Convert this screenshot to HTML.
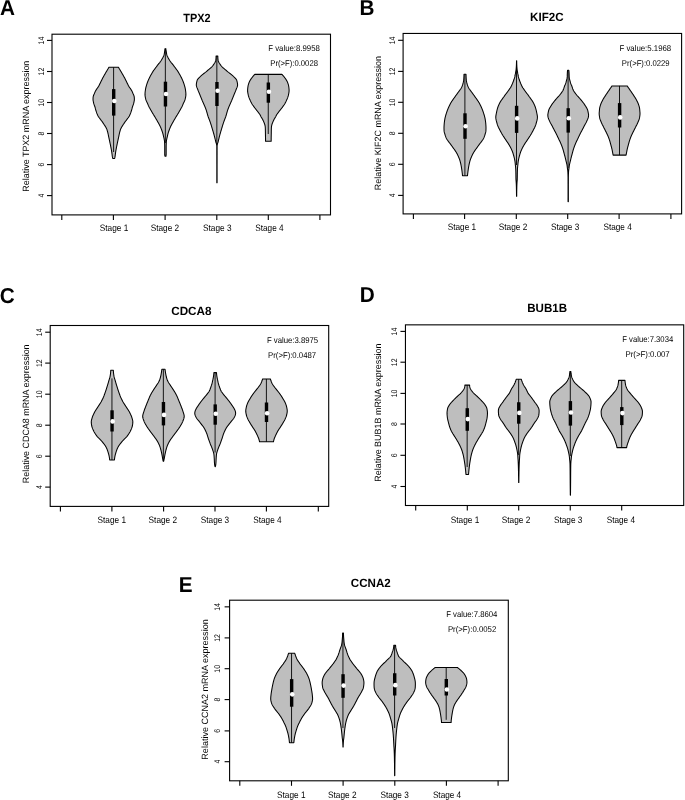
<!DOCTYPE html>
<html>
<head>
<meta charset="utf-8">
<title>Violin plots</title>
<style>
html, body { margin: 0; padding: 0; background: #fff; }
body { width: 685px; height: 800px; overflow: hidden; font-family: "Liberation Sans", sans-serif; }
svg { display: block; font-family: "Liberation Sans", sans-serif; will-change: transform; opacity: 0.9999; filter: blur(0.35px); text-rendering: geometricPrecision; }
</style>
</head>
<body>
<svg width="685" height="800" viewBox="0 0 685 800">
<rect x="0" y="0" width="685" height="800" fill="#fff"/>
<g id="panel-A">
<path d="M118.52 67.3 L118.85 67.9 L119.18 68.5 L119.53 69.1 L119.89 69.7 L120.25 70.3 L120.61 70.9 L120.96 71.5 L121.31 72.1 L121.66 72.7 L122.01 73.3 L122.36 73.9 L122.7 74.5 L123.04 75.1 L123.39 75.7 L123.72 76.3 L124.06 76.9 L124.4 77.5 L124.72 78.1 L125.02 78.7 L125.32 79.3 L125.62 79.9 L125.92 80.5 L126.21 81.1 L126.51 81.7 L126.8 82.3 L127.09 82.9 L127.38 83.5 L127.68 84.1 L127.97 84.7 L128.26 85.3 L128.58 85.9 L128.95 86.5 L129.35 87.1 L129.76 87.7 L130.17 88.3 L130.59 88.9 L130.98 89.5 L131.38 90.1 L131.75 90.7 L132.06 91.3 L132.32 91.9 L132.58 92.5 L132.83 93.1 L133.09 93.7 L133.38 94.3 L133.63 94.9 L133.86 95.5 L134.05 96.1 L134.19 96.7 L134.28 97.3 L134.33 97.9 L134.36 98.5 L134.37 99.1 L134.37 99.7 L134.32 100.3 L134.2 100.9 L134.09 101.5 L133.98 102.1 L133.84 102.7 L133.69 103.3 L133.52 103.9 L133.33 104.5 L133.12 105.1 L132.91 105.7 L132.69 106.3 L132.46 106.9 L132.27 107.5 L132.14 108.1 L132 108.7 L131.84 109.3 L131.67 109.9 L131.49 110.5 L131.3 111.1 L131.1 111.7 L130.9 112.3 L130.69 112.9 L130.46 113.5 L130.21 114.1 L129.94 114.7 L129.66 115.3 L129.37 115.9 L129.03 116.5 L128.61 117.1 L128.2 117.7 L127.77 118.3 L127.33 118.9 L126.88 119.5 L126.42 120.1 L125.96 120.7 L125.5 121.3 L125.06 121.9 L124.64 122.5 L124.24 123.1 L123.85 123.7 L123.47 124.3 L123.06 124.9 L122.65 125.5 L122.26 126.1 L121.88 126.7 L121.53 127.3 L121.21 127.9 L120.91 128.5 L120.63 129.1 L120.42 129.7 L120.24 130.3 L120.06 130.9 L119.89 131.5 L119.73 132.1 L119.57 132.7 L119.43 133.3 L119.3 133.9 L119.17 134.5 L119.05 135.1 L118.94 135.7 L118.82 136.3 L118.69 136.9 L118.56 137.5 L118.43 138.1 L118.3 138.7 L118.17 139.3 L118.04 139.9 L117.91 140.5 L117.78 141.1 L117.65 141.7 L117.53 142.3 L117.4 142.9 L117.28 143.5 L117.15 144.1 L117.03 144.7 L116.9 145.3 L116.78 145.9 L116.66 146.5 L116.54 147.1 L116.42 147.7 L116.3 148.3 L116.19 148.9 L116.08 149.5 L115.97 150.1 L115.87 150.7 L115.77 151.3 L115.68 151.9 L115.59 152.5 L115.5 153.1 L115.43 153.7 L115.35 154.3 L115.28 154.9 L115.2 155.5 L115.11 156.1 L115.02 156.7 L114.91 157.3 L114.78 157.9 L114.65 158.4 L112.75 158.4 L112.62 157.9 L112.49 157.3 L112.38 156.7 L112.29 156.1 L112.2 155.5 L112.12 154.9 L112.05 154.3 L111.97 153.7 L111.9 153.1 L111.81 152.5 L111.72 151.9 L111.63 151.3 L111.53 150.7 L111.43 150.1 L111.32 149.5 L111.21 148.9 L111.1 148.3 L110.98 147.7 L110.86 147.1 L110.74 146.5 L110.62 145.9 L110.5 145.3 L110.37 144.7 L110.25 144.1 L110.12 143.5 L110 142.9 L109.87 142.3 L109.75 141.7 L109.62 141.1 L109.49 140.5 L109.36 139.9 L109.23 139.3 L109.1 138.7 L108.97 138.1 L108.84 137.5 L108.71 136.9 L108.58 136.3 L108.46 135.7 L108.35 135.1 L108.23 134.5 L108.1 133.9 L107.97 133.3 L107.83 132.7 L107.67 132.1 L107.51 131.5 L107.34 130.9 L107.16 130.3 L106.98 129.7 L106.77 129.1 L106.49 128.5 L106.19 127.9 L105.87 127.3 L105.52 126.7 L105.14 126.1 L104.75 125.5 L104.34 124.9 L103.93 124.3 L103.55 123.7 L103.16 123.1 L102.76 122.5 L102.34 121.9 L101.9 121.3 L101.44 120.7 L100.98 120.1 L100.52 119.5 L100.07 118.9 L99.63 118.3 L99.2 117.7 L98.79 117.1 L98.37 116.5 L98.03 115.9 L97.74 115.3 L97.46 114.7 L97.19 114.1 L96.94 113.5 L96.71 112.9 L96.5 112.3 L96.3 111.7 L96.1 111.1 L95.91 110.5 L95.73 109.9 L95.56 109.3 L95.4 108.7 L95.26 108.1 L95.13 107.5 L94.94 106.9 L94.71 106.3 L94.49 105.7 L94.28 105.1 L94.07 104.5 L93.88 103.9 L93.71 103.3 L93.56 102.7 L93.42 102.1 L93.31 101.5 L93.2 100.9 L93.08 100.3 L93.03 99.7 L93.03 99.1 L93.04 98.5 L93.07 97.9 L93.12 97.3 L93.21 96.7 L93.35 96.1 L93.54 95.5 L93.77 94.9 L94.02 94.3 L94.31 93.7 L94.57 93.1 L94.82 92.5 L95.08 91.9 L95.34 91.3 L95.65 90.7 L96.02 90.1 L96.42 89.5 L96.81 88.9 L97.23 88.3 L97.64 87.7 L98.05 87.1 L98.45 86.5 L98.82 85.9 L99.14 85.3 L99.43 84.7 L99.72 84.1 L100.02 83.5 L100.31 82.9 L100.6 82.3 L100.89 81.7 L101.19 81.1 L101.48 80.5 L101.78 79.9 L102.08 79.3 L102.38 78.7 L102.68 78.1 L103 77.5 L103.34 76.9 L103.68 76.3 L104.01 75.7 L104.36 75.1 L104.7 74.5 L105.04 73.9 L105.39 73.3 L105.74 72.7 L106.09 72.1 L106.44 71.5 L106.79 70.9 L107.15 70.3 L107.51 69.7 L107.87 69.1 L108.22 68.5 L108.55 67.9 L108.88 67.3Z" fill="#bebebe" stroke="#000" stroke-width="1.05" stroke-linejoin="round"/>
<line x1="113.6" y1="67.3" x2="113.6" y2="152" stroke="#000" stroke-width="0.9"/>
<rect x="112" y="89.1" width="3.4" height="26.5" fill="#000"/>
<circle cx="114.3" cy="101" r="2.3" fill="#fff"/>
<path d="M165.94 48.7 L165.96 49.3 L166 49.9 L166.07 50.5 L166.17 51.1 L166.28 51.7 L166.37 52.3 L166.46 52.9 L166.56 53.5 L166.67 54.1 L166.8 54.7 L166.98 55.3 L167.19 55.9 L167.48 56.5 L167.79 57.1 L168.11 57.7 L168.45 58.3 L168.8 58.9 L169.15 59.5 L169.49 60.1 L169.85 60.7 L170.24 61.3 L170.67 61.9 L171.11 62.5 L171.62 63.1 L172.15 63.7 L172.67 64.3 L173.15 64.9 L173.59 65.5 L174.01 66.1 L174.44 66.7 L174.88 67.3 L175.34 67.9 L175.79 68.5 L176.25 69.1 L176.69 69.7 L177.13 70.3 L177.55 70.9 L177.95 71.5 L178.32 72.1 L178.67 72.7 L179.01 73.3 L179.35 73.9 L179.69 74.5 L180.04 75.1 L180.38 75.7 L180.7 76.3 L181.02 76.9 L181.32 77.5 L181.61 78.1 L181.89 78.7 L182.17 79.3 L182.44 79.9 L182.7 80.5 L182.95 81.1 L183.19 81.7 L183.42 82.3 L183.64 82.9 L183.84 83.5 L184.03 84.1 L184.22 84.7 L184.4 85.3 L184.58 85.9 L184.75 86.5 L184.91 87.1 L185.07 87.7 L185.2 88.3 L185.32 88.9 L185.43 89.5 L185.51 90.1 L185.59 90.7 L185.67 91.3 L185.74 91.9 L185.8 92.5 L185.85 93.1 L185.88 93.7 L185.9 94.3 L185.89 94.9 L185.85 95.5 L185.78 96.1 L185.68 96.7 L185.57 97.3 L185.44 97.9 L185.31 98.5 L185.18 99.1 L185.02 99.7 L184.82 100.3 L184.58 100.9 L184.32 101.5 L184.03 102.1 L183.73 102.7 L183.42 103.3 L183.16 103.9 L182.92 104.5 L182.68 105.1 L182.42 105.7 L182.14 106.3 L181.84 106.9 L181.53 107.5 L181.2 108.1 L180.86 108.7 L180.52 109.3 L180.18 109.9 L179.83 110.5 L179.5 111.1 L179.16 111.7 L178.81 112.3 L178.46 112.9 L178.11 113.5 L177.75 114.1 L177.39 114.7 L177.01 115.3 L176.64 115.9 L176.27 116.5 L175.91 117.1 L175.55 117.7 L175.19 118.3 L174.83 118.9 L174.48 119.5 L174.13 120.1 L173.78 120.7 L173.44 121.3 L173.11 121.9 L172.77 122.5 L172.43 123.1 L172.1 123.7 L171.77 124.3 L171.44 124.9 L171.12 125.5 L170.83 126.1 L170.55 126.7 L170.29 127.3 L170.03 127.9 L169.79 128.5 L169.56 129.1 L169.33 129.7 L169.11 130.3 L168.89 130.9 L168.68 131.5 L168.47 132.1 L168.28 132.7 L168.1 133.3 L167.93 133.9 L167.78 134.5 L167.65 135.1 L167.52 135.7 L167.39 136.3 L167.24 136.9 L167.09 137.5 L166.95 138.1 L166.81 138.7 L166.69 139.3 L166.58 139.9 L166.49 140.5 L166.41 141.1 L166.34 141.7 L166.3 142.3 L166.28 142.9 L166.26 143.5 L166.23 144.1 L166.21 144.7 L166.19 145.3 L166.18 145.9 L166.17 146.5 L166.17 147.1 L166.17 147.7 L166.17 148.3 L166.17 148.9 L166.17 149.5 L166.17 150.1 L166.17 150.7 L166.17 151.3 L166.17 151.9 L166.17 152.5 L166.17 153.1 L166.17 153.7 L166.17 154.3 L166.15 154.9 L166.07 155.5 L165.97 156.1 L165.94 156.3 L164.95 156.3 L164.93 156.1 L164.83 155.5 L164.75 154.9 L164.73 154.3 L164.73 153.7 L164.73 153.1 L164.73 152.5 L164.73 151.9 L164.73 151.3 L164.73 150.7 L164.73 150.1 L164.73 149.5 L164.73 148.9 L164.73 148.3 L164.73 147.7 L164.73 147.1 L164.73 146.5 L164.72 145.9 L164.71 145.3 L164.69 144.7 L164.67 144.1 L164.64 143.5 L164.62 142.9 L164.6 142.3 L164.56 141.7 L164.49 141.1 L164.41 140.5 L164.32 139.9 L164.21 139.3 L164.09 138.7 L163.95 138.1 L163.81 137.5 L163.66 136.9 L163.51 136.3 L163.38 135.7 L163.25 135.1 L163.12 134.5 L162.97 133.9 L162.8 133.3 L162.62 132.7 L162.43 132.1 L162.22 131.5 L162.01 130.9 L161.79 130.3 L161.57 129.7 L161.34 129.1 L161.11 128.5 L160.87 127.9 L160.61 127.3 L160.35 126.7 L160.07 126.1 L159.78 125.5 L159.46 124.9 L159.13 124.3 L158.8 123.7 L158.47 123.1 L158.13 122.5 L157.79 121.9 L157.46 121.3 L157.12 120.7 L156.77 120.1 L156.42 119.5 L156.07 118.9 L155.71 118.3 L155.35 117.7 L154.99 117.1 L154.63 116.5 L154.26 115.9 L153.89 115.3 L153.51 114.7 L153.15 114.1 L152.79 113.5 L152.44 112.9 L152.09 112.3 L151.74 111.7 L151.4 111.1 L151.07 110.5 L150.72 109.9 L150.38 109.3 L150.04 108.7 L149.7 108.1 L149.37 107.5 L149.06 106.9 L148.76 106.3 L148.48 105.7 L148.22 105.1 L147.98 104.5 L147.74 103.9 L147.48 103.3 L147.17 102.7 L146.87 102.1 L146.58 101.5 L146.32 100.9 L146.08 100.3 L145.88 99.7 L145.72 99.1 L145.59 98.5 L145.46 97.9 L145.33 97.3 L145.22 96.7 L145.12 96.1 L145.05 95.5 L145.01 94.9 L145 94.3 L145.02 93.7 L145.05 93.1 L145.1 92.5 L145.16 91.9 L145.23 91.3 L145.31 90.7 L145.39 90.1 L145.47 89.5 L145.58 88.9 L145.7 88.3 L145.83 87.7 L145.99 87.1 L146.15 86.5 L146.32 85.9 L146.5 85.3 L146.68 84.7 L146.87 84.1 L147.06 83.5 L147.26 82.9 L147.48 82.3 L147.71 81.7 L147.95 81.1 L148.2 80.5 L148.46 79.9 L148.73 79.3 L149.01 78.7 L149.29 78.1 L149.58 77.5 L149.88 76.9 L150.2 76.3 L150.52 75.7 L150.86 75.1 L151.21 74.5 L151.55 73.9 L151.89 73.3 L152.23 72.7 L152.58 72.1 L152.95 71.5 L153.35 70.9 L153.77 70.3 L154.21 69.7 L154.65 69.1 L155.11 68.5 L155.56 67.9 L156.02 67.3 L156.46 66.7 L156.89 66.1 L157.31 65.5 L157.75 64.9 L158.23 64.3 L158.75 63.7 L159.28 63.1 L159.79 62.5 L160.23 61.9 L160.66 61.3 L161.05 60.7 L161.41 60.1 L161.75 59.5 L162.1 58.9 L162.45 58.3 L162.79 57.7 L163.11 57.1 L163.42 56.5 L163.71 55.9 L163.92 55.3 L164.1 54.7 L164.23 54.1 L164.34 53.5 L164.44 52.9 L164.53 52.3 L164.62 51.7 L164.73 51.1 L164.83 50.5 L164.9 49.9 L164.94 49.3 L164.95 48.7Z" fill="#bebebe" stroke="#000" stroke-width="1.05" stroke-linejoin="round"/>
<line x1="165.35" y1="48.7" x2="165.35" y2="143" stroke="#000" stroke-width="0.9"/>
<rect x="163.75" y="81.7" width="3.4" height="24.8" fill="#000"/>
<circle cx="166.05" cy="94" r="2.3" fill="#fff"/>
<path d="M217.85 56.1 L217.83 56.7 L217.84 57.3 L217.87 57.9 L217.91 58.5 L217.97 59.1 L218.04 59.7 L218.12 60.3 L218.23 60.9 L218.43 61.5 L218.71 62.1 L219.04 62.7 L219.41 63.3 L219.82 63.9 L220.25 64.5 L220.68 65.1 L221.11 65.7 L221.57 66.3 L222.1 66.9 L222.71 67.5 L223.41 68.1 L224.13 68.7 L224.87 69.3 L225.61 69.9 L226.31 70.5 L226.98 71.1 L227.65 71.7 L228.41 72.3 L229.21 72.9 L230.01 73.5 L230.79 74.1 L231.55 74.7 L232.26 75.3 L232.93 75.9 L233.54 76.5 L234.15 77.1 L234.76 77.7 L235.35 78.3 L235.89 78.9 L236.32 79.5 L236.64 80.1 L236.85 80.7 L237.01 81.3 L237.15 81.9 L237.28 82.5 L237.4 83.1 L237.49 83.7 L237.55 84.3 L237.58 84.9 L237.55 85.5 L237.43 86.1 L237.25 86.7 L237.03 87.3 L236.79 87.9 L236.53 88.5 L236.29 89.1 L236.07 89.7 L235.85 90.3 L235.61 90.9 L235.37 91.5 L235.11 92.1 L234.85 92.7 L234.6 93.3 L234.35 93.9 L234.11 94.5 L233.87 95.1 L233.64 95.7 L233.4 96.3 L233.16 96.9 L232.91 97.5 L232.67 98.1 L232.42 98.7 L232.18 99.3 L231.94 99.9 L231.7 100.5 L231.44 101.1 L231.17 101.7 L230.9 102.3 L230.64 102.9 L230.37 103.5 L230.11 104.1 L229.84 104.7 L229.57 105.3 L229.31 105.9 L229.05 106.5 L228.8 107.1 L228.57 107.7 L228.34 108.3 L228.12 108.9 L227.89 109.5 L227.68 110.1 L227.48 110.7 L227.3 111.3 L227.12 111.9 L226.95 112.5 L226.79 113.1 L226.62 113.7 L226.46 114.3 L226.29 114.9 L226.11 115.5 L225.93 116.1 L225.73 116.7 L225.51 117.3 L225.28 117.9 L225.04 118.5 L224.81 119.1 L224.58 119.7 L224.36 120.3 L224.14 120.9 L223.92 121.5 L223.71 122.1 L223.5 122.7 L223.3 123.3 L223.1 123.9 L222.91 124.5 L222.71 125.1 L222.53 125.7 L222.35 126.3 L222.17 126.9 L222 127.5 L221.82 128.1 L221.64 128.7 L221.45 129.3 L221.28 129.9 L221.1 130.5 L220.92 131.1 L220.74 131.7 L220.57 132.3 L220.4 132.9 L220.23 133.5 L220.06 134.1 L219.89 134.7 L219.73 135.3 L219.57 135.9 L219.41 136.5 L219.26 137.1 L219.11 137.7 L218.97 138.3 L218.82 138.9 L218.67 139.5 L218.53 140.1 L218.38 140.7 L218.24 141.3 L218.09 141.9 L217.92 142.5 L217.71 143.1 L217.45 143.7 L217.29 144.3 L217.22 144.9 L217.16 145.5 L217.11 146.1 L217.11 146.7 L217.11 147.3 L217.11 147.9 L217.11 148.5 L217.11 149.1 L217.11 149.7 L217.1 150.3 L217.1 150.9 L217.1 151.5 L217.1 152.1 L217.1 152.7 L217.1 153.3 L217.1 153.9 L217.1 154.5 L217.1 155.1 L217.09 155.7 L217.09 156.3 L217.09 156.9 L217.09 157.5 L217.09 158.1 L217.09 158.7 L217.09 159.3 L217.09 159.9 L217.09 160.5 L217.09 161.1 L217.09 161.7 L217.09 162.3 L217.09 162.9 L217.09 163.5 L217.08 164.1 L217.08 164.7 L217.08 165.3 L217.08 165.9 L217.08 166.5 L217.08 167.1 L217.08 167.7 L217.08 168.3 L217.08 168.9 L217.08 169.5 L217.08 170.1 L217.08 170.7 L217.08 171.3 L217.08 171.9 L217.08 172.5 L217.08 173.1 L217.08 173.7 L217.08 174.3 L217.08 174.9 L217.08 175.5 L217.08 176.1 L217.08 176.7 L217.08 177.3 L217.08 177.9 L217.08 178.5 L217.08 179.1 L217.08 179.7 L217.08 180.3 L217.08 180.9 L217.08 181.5 L217.08 182.1 L217.08 182.65 L216.82 182.65 L216.82 182.1 L216.82 181.5 L216.82 180.9 L216.82 180.3 L216.82 179.7 L216.82 179.1 L216.82 178.5 L216.82 177.9 L216.82 177.3 L216.82 176.7 L216.82 176.1 L216.82 175.5 L216.82 174.9 L216.82 174.3 L216.82 173.7 L216.82 173.1 L216.82 172.5 L216.82 171.9 L216.82 171.3 L216.82 170.7 L216.82 170.1 L216.82 169.5 L216.82 168.9 L216.82 168.3 L216.82 167.7 L216.82 167.1 L216.82 166.5 L216.82 165.9 L216.82 165.3 L216.82 164.7 L216.82 164.1 L216.81 163.5 L216.81 162.9 L216.81 162.3 L216.81 161.7 L216.81 161.1 L216.81 160.5 L216.81 159.9 L216.81 159.3 L216.81 158.7 L216.81 158.1 L216.81 157.5 L216.81 156.9 L216.81 156.3 L216.81 155.7 L216.8 155.1 L216.8 154.5 L216.8 153.9 L216.8 153.3 L216.8 152.7 L216.8 152.1 L216.8 151.5 L216.8 150.9 L216.8 150.3 L216.79 149.7 L216.79 149.1 L216.79 148.5 L216.79 147.9 L216.79 147.3 L216.79 146.7 L216.79 146.1 L216.74 145.5 L216.68 144.9 L216.61 144.3 L216.45 143.7 L216.19 143.1 L215.98 142.5 L215.81 141.9 L215.66 141.3 L215.52 140.7 L215.37 140.1 L215.23 139.5 L215.08 138.9 L214.93 138.3 L214.79 137.7 L214.64 137.1 L214.49 136.5 L214.33 135.9 L214.17 135.3 L214.01 134.7 L213.84 134.1 L213.67 133.5 L213.5 132.9 L213.33 132.3 L213.16 131.7 L212.98 131.1 L212.8 130.5 L212.62 129.9 L212.45 129.3 L212.26 128.7 L212.08 128.1 L211.9 127.5 L211.73 126.9 L211.55 126.3 L211.37 125.7 L211.19 125.1 L210.99 124.5 L210.8 123.9 L210.6 123.3 L210.4 122.7 L210.19 122.1 L209.98 121.5 L209.76 120.9 L209.54 120.3 L209.32 119.7 L209.09 119.1 L208.86 118.5 L208.62 117.9 L208.39 117.3 L208.17 116.7 L207.97 116.1 L207.79 115.5 L207.61 114.9 L207.44 114.3 L207.28 113.7 L207.11 113.1 L206.95 112.5 L206.78 111.9 L206.6 111.3 L206.42 110.7 L206.22 110.1 L206.01 109.5 L205.78 108.9 L205.56 108.3 L205.33 107.7 L205.1 107.1 L204.85 106.5 L204.59 105.9 L204.33 105.3 L204.06 104.7 L203.79 104.1 L203.53 103.5 L203.26 102.9 L203 102.3 L202.73 101.7 L202.46 101.1 L202.2 100.5 L201.96 99.9 L201.72 99.3 L201.48 98.7 L201.23 98.1 L200.99 97.5 L200.74 96.9 L200.5 96.3 L200.26 95.7 L200.03 95.1 L199.79 94.5 L199.55 93.9 L199.3 93.3 L199.05 92.7 L198.79 92.1 L198.53 91.5 L198.29 90.9 L198.05 90.3 L197.83 89.7 L197.61 89.1 L197.37 88.5 L197.11 87.9 L196.87 87.3 L196.65 86.7 L196.47 86.1 L196.35 85.5 L196.32 84.9 L196.35 84.3 L196.41 83.7 L196.5 83.1 L196.62 82.5 L196.75 81.9 L196.89 81.3 L197.05 80.7 L197.26 80.1 L197.58 79.5 L198.01 78.9 L198.55 78.3 L199.14 77.7 L199.75 77.1 L200.36 76.5 L200.97 75.9 L201.64 75.3 L202.35 74.7 L203.11 74.1 L203.89 73.5 L204.69 72.9 L205.49 72.3 L206.25 71.7 L206.92 71.1 L207.59 70.5 L208.29 69.9 L209.03 69.3 L209.77 68.7 L210.49 68.1 L211.19 67.5 L211.8 66.9 L212.33 66.3 L212.79 65.7 L213.22 65.1 L213.65 64.5 L214.08 63.9 L214.49 63.3 L214.86 62.7 L215.19 62.1 L215.47 61.5 L215.67 60.9 L215.78 60.3 L215.86 59.7 L215.93 59.1 L215.99 58.5 L216.03 57.9 L216.06 57.3 L216.07 56.7 L216.05 56.1Z" fill="#bebebe" stroke="#000" stroke-width="1.05" stroke-linejoin="round"/>
<line x1="216.85" y1="56.1" x2="216.85" y2="145" stroke="#000" stroke-width="0.9"/>
<rect x="215.25" y="82" width="3.4" height="24" fill="#000"/>
<circle cx="217.55" cy="90.8" r="2.3" fill="#fff"/>
<path d="M281.9 74.35 L282.47 74.95 L283.01 75.55 L283.54 76.15 L284.04 76.75 L284.51 77.35 L284.94 77.95 L285.37 78.55 L285.79 79.15 L286.18 79.75 L286.56 80.35 L286.9 80.95 L287.2 81.55 L287.46 82.15 L287.7 82.75 L287.92 83.35 L288.13 83.95 L288.32 84.55 L288.48 85.15 L288.62 85.75 L288.71 86.35 L288.8 86.95 L288.88 87.55 L288.95 88.15 L289.01 88.75 L289.06 89.35 L289.09 89.95 L289.1 90.55 L289.08 91.15 L289.03 91.75 L288.95 92.35 L288.85 92.95 L288.74 93.55 L288.62 94.15 L288.5 94.75 L288.37 95.35 L288.21 95.95 L288.02 96.55 L287.82 97.15 L287.6 97.75 L287.36 98.35 L287.12 98.95 L286.86 99.55 L286.59 100.15 L286.33 100.75 L286.05 101.35 L285.76 101.95 L285.44 102.55 L285.12 103.15 L284.78 103.75 L284.41 104.35 L284.02 104.95 L283.6 105.55 L283.18 106.15 L282.75 106.75 L282.32 107.35 L281.87 107.95 L281.4 108.55 L280.93 109.15 L280.45 109.75 L279.97 110.35 L279.49 110.95 L279.03 111.55 L278.58 112.15 L278.12 112.75 L277.66 113.35 L277.21 113.95 L276.78 114.55 L276.43 115.15 L276.13 115.75 L275.86 116.35 L275.6 116.95 L275.2 117.55 L274.82 118.15 L274.46 118.75 L274.12 119.35 L273.82 119.95 L273.54 120.55 L273.27 121.15 L273 121.75 L272.73 122.35 L272.48 122.95 L272.25 123.55 L272.05 124.15 L271.88 124.75 L271.73 125.35 L271.58 125.95 L271.49 126.55 L271.44 127.15 L271.4 127.75 L271.37 128.35 L271.35 128.95 L271.33 129.55 L271.32 130.15 L271.31 130.75 L271.3 131.35 L271.29 131.95 L271.28 132.55 L271.28 133.15 L271.27 133.75 L271.26 134.35 L271.24 134.95 L271.23 135.55 L271.22 136.15 L271.2 136.75 L271.19 137.35 L271.18 137.95 L271.18 138.55 L271.17 139.15 L271.17 139.75 L271.17 140.35 L271.17 140.95 L271.17 141.3 L265.53 141.3 L265.53 140.95 L265.53 140.35 L265.53 139.75 L265.53 139.15 L265.52 138.55 L265.52 137.95 L265.51 137.35 L265.5 136.75 L265.48 136.15 L265.47 135.55 L265.46 134.95 L265.44 134.35 L265.43 133.75 L265.42 133.15 L265.42 132.55 L265.41 131.95 L265.4 131.35 L265.39 130.75 L265.38 130.15 L265.37 129.55 L265.35 128.95 L265.33 128.35 L265.3 127.75 L265.26 127.15 L265.21 126.55 L265.12 125.95 L264.97 125.35 L264.82 124.75 L264.65 124.15 L264.45 123.55 L264.22 122.95 L263.97 122.35 L263.7 121.75 L263.43 121.15 L263.16 120.55 L262.88 119.95 L262.58 119.35 L262.24 118.75 L261.88 118.15 L261.5 117.55 L261.1 116.95 L260.84 116.35 L260.57 115.75 L260.27 115.15 L259.92 114.55 L259.49 113.95 L259.04 113.35 L258.58 112.75 L258.12 112.15 L257.67 111.55 L257.21 110.95 L256.73 110.35 L256.25 109.75 L255.77 109.15 L255.3 108.55 L254.83 107.95 L254.38 107.35 L253.95 106.75 L253.52 106.15 L253.1 105.55 L252.68 104.95 L252.29 104.35 L251.92 103.75 L251.58 103.15 L251.26 102.55 L250.94 101.95 L250.65 101.35 L250.37 100.75 L250.11 100.15 L249.84 99.55 L249.58 98.95 L249.34 98.35 L249.1 97.75 L248.88 97.15 L248.68 96.55 L248.49 95.95 L248.33 95.35 L248.2 94.75 L248.08 94.15 L247.96 93.55 L247.85 92.95 L247.75 92.35 L247.67 91.75 L247.62 91.15 L247.6 90.55 L247.61 89.95 L247.64 89.35 L247.69 88.75 L247.75 88.15 L247.82 87.55 L247.9 86.95 L247.99 86.35 L248.08 85.75 L248.22 85.15 L248.38 84.55 L248.57 83.95 L248.78 83.35 L249 82.75 L249.24 82.15 L249.5 81.55 L249.8 80.95 L250.14 80.35 L250.52 79.75 L250.91 79.15 L251.33 78.55 L251.76 77.95 L252.19 77.35 L252.66 76.75 L253.16 76.15 L253.69 75.55 L254.23 74.95 L254.8 74.35Z" fill="#bebebe" stroke="#000" stroke-width="1.05" stroke-linejoin="round"/>
<line x1="268.25" y1="74.35" x2="268.25" y2="134" stroke="#000" stroke-width="0.9"/>
<rect x="266.65" y="82.5" width="3.4" height="20.2" fill="#000"/>
<circle cx="268.95" cy="91.8" r="2.3" fill="#fff"/>
<rect x="52" y="34.2" width="278.5" height="180.7" fill="none" stroke="#000" stroke-width="1.1"/>
<line x1="47" y1="40.4" x2="52" y2="40.4" stroke="#000" stroke-width="1.1"/>
<text x="43.7" y="44.39" font-size="8.2" text-anchor="start" fill="#000" textLength="7.66" lengthAdjust="spacingAndGlyphs" transform="rotate(-90 43.7 44.39)">14</text>
<line x1="47" y1="71.5" x2="52" y2="71.5" stroke="#000" stroke-width="1.1"/>
<text x="43.7" y="75.42" font-size="8.2" text-anchor="start" fill="#000" textLength="7.66" lengthAdjust="spacingAndGlyphs" transform="rotate(-90 43.7 75.42)">12</text>
<line x1="47" y1="102.5" x2="52" y2="102.5" stroke="#000" stroke-width="1.1"/>
<text x="43.7" y="106.46" font-size="8.2" text-anchor="start" fill="#000" textLength="7.66" lengthAdjust="spacingAndGlyphs" transform="rotate(-90 43.7 106.46)">10</text>
<line x1="47" y1="133.5" x2="52" y2="133.5" stroke="#000" stroke-width="1.1"/>
<text x="43.7" y="135.42" font-size="8.2" text-anchor="start" fill="#000" textLength="3.83" lengthAdjust="spacingAndGlyphs" transform="rotate(-90 43.7 135.42)">8</text>
<line x1="47" y1="164.6" x2="52" y2="164.6" stroke="#000" stroke-width="1.1"/>
<text x="43.7" y="166.54" font-size="8.2" text-anchor="start" fill="#000" textLength="3.83" lengthAdjust="spacingAndGlyphs" transform="rotate(-90 43.7 166.54)">6</text>
<line x1="47" y1="195.6" x2="52" y2="195.6" stroke="#000" stroke-width="1.1"/>
<text x="43.7" y="197.49" font-size="8.2" text-anchor="start" fill="#000" textLength="3.83" lengthAdjust="spacingAndGlyphs" transform="rotate(-90 43.7 197.49)">4</text>
<line x1="61.8" y1="214.9" x2="61.8" y2="219.9" stroke="#000" stroke-width="1.1"/>
<line x1="113.4" y1="214.9" x2="113.4" y2="219.9" stroke="#000" stroke-width="1.1"/>
<line x1="165.1" y1="214.9" x2="165.1" y2="219.9" stroke="#000" stroke-width="1.1"/>
<line x1="216.8" y1="214.9" x2="216.8" y2="219.9" stroke="#000" stroke-width="1.1"/>
<line x1="268.3" y1="214.9" x2="268.3" y2="219.9" stroke="#000" stroke-width="1.1"/>
<line x1="319.9" y1="214.9" x2="319.9" y2="219.9" stroke="#000" stroke-width="1.1"/>
<text x="99.77" y="230.5" font-size="9.4" text-anchor="start" fill="#000" textLength="28.48" lengthAdjust="spacingAndGlyphs">Stage 1</text>
<text x="150.67" y="230.5" font-size="9.4" text-anchor="start" fill="#000" textLength="28.49" lengthAdjust="spacingAndGlyphs">Stage 2</text>
<text x="203.08" y="230.5" font-size="9.4" text-anchor="start" fill="#000" textLength="28.44" lengthAdjust="spacingAndGlyphs">Stage 3</text>
<text x="255.28" y="230.5" font-size="9.4" text-anchor="start" fill="#000" textLength="28.31" lengthAdjust="spacingAndGlyphs">Stage 4</text>
<text x="29.1" y="191.68" font-size="9.1" text-anchor="start" fill="#000" textLength="131.01" lengthAdjust="spacingAndGlyphs" transform="rotate(-90 29.1 191.68)">Relative TPX2 mRNA expression</text>
<text x="183.25" y="21.7" font-size="11.9" text-anchor="start" fill="#000" font-weight="bold" textLength="27.21" lengthAdjust="spacingAndGlyphs">TPX2</text>
<text x="268.31" y="51.3" font-size="8.4" text-anchor="start" fill="#000" textLength="51.58" lengthAdjust="spacingAndGlyphs">F value:8.9958</text>
<text x="270.27" y="66.2" font-size="8.4" text-anchor="start" fill="#000" textLength="47.67" lengthAdjust="spacingAndGlyphs">Pr(&gt;F):0.0028</text>
<text transform="translate(0.08 14.8) scale(0.96 1)" font-size="21.6" font-weight="bold" fill="#000">A</text>
</g>
<g id="panel-B">
<path d="M466 74.3 L466.02 74.9 L466.04 75.5 L466.06 76.1 L466.09 76.7 L466.11 77.3 L466.15 77.9 L466.18 78.5 L466.23 79.1 L466.28 79.7 L466.35 80.3 L466.43 80.9 L466.54 81.5 L466.67 82.1 L466.8 82.7 L466.95 83.3 L467.11 83.9 L467.28 84.5 L467.48 85.1 L467.69 85.7 L467.93 86.3 L468.18 86.9 L468.46 87.5 L468.76 88.1 L469.12 88.7 L469.54 89.3 L469.99 89.9 L470.45 90.5 L470.91 91.1 L471.34 91.7 L471.78 92.3 L472.21 92.9 L472.65 93.5 L473.09 94.1 L473.52 94.7 L473.95 95.3 L474.38 95.9 L474.8 96.5 L475.23 97.1 L475.67 97.7 L476.1 98.3 L476.53 98.9 L476.96 99.5 L477.38 100.1 L477.79 100.7 L478.19 101.3 L478.57 101.9 L478.93 102.5 L479.28 103.1 L479.61 103.7 L479.92 104.3 L480.23 104.9 L480.53 105.5 L480.82 106.1 L481.1 106.7 L481.37 107.3 L481.64 107.9 L481.89 108.5 L482.14 109.1 L482.38 109.7 L482.61 110.3 L482.83 110.9 L483.03 111.5 L483.24 112.1 L483.44 112.7 L483.64 113.3 L483.83 113.9 L484.02 114.5 L484.2 115.1 L484.37 115.7 L484.53 116.3 L484.69 116.9 L484.84 117.5 L484.97 118.1 L485.09 118.7 L485.2 119.3 L485.3 119.9 L485.39 120.5 L485.48 121.1 L485.56 121.7 L485.64 122.3 L485.7 122.9 L485.76 123.5 L485.81 124.1 L485.85 124.7 L485.89 125.3 L485.93 125.9 L485.96 126.5 L485.99 127.1 L486 127.7 L486 128.3 L485.99 128.9 L485.97 129.5 L485.95 130.1 L485.92 130.7 L485.87 131.3 L485.77 131.9 L485.62 132.5 L485.44 133.1 L485.26 133.7 L485.09 134.3 L484.91 134.9 L484.72 135.5 L484.51 136.1 L484.3 136.7 L484.06 137.3 L483.8 137.9 L483.51 138.5 L483.18 139.1 L482.81 139.7 L482.41 140.3 L481.99 140.9 L481.55 141.5 L481.09 142.1 L480.63 142.7 L480.16 143.3 L479.7 143.9 L479.24 144.5 L478.8 145.1 L478.37 145.7 L477.95 146.3 L477.53 146.9 L477.09 147.5 L476.66 148.1 L476.22 148.7 L475.78 149.3 L475.35 149.9 L474.93 150.5 L474.52 151.1 L474.13 151.7 L473.76 152.3 L473.4 152.9 L473.08 153.5 L472.77 154.1 L472.48 154.7 L472.18 155.3 L471.9 155.9 L471.63 156.5 L471.36 157.1 L471.11 157.7 L470.87 158.3 L470.64 158.9 L470.42 159.5 L470.22 160.1 L470.03 160.7 L469.85 161.3 L469.7 161.9 L469.55 162.5 L469.4 163.1 L469.27 163.7 L469.14 164.3 L469.02 164.9 L468.9 165.5 L468.79 166.1 L468.68 166.7 L468.58 167.3 L468.48 167.9 L468.39 168.5 L468.29 169.1 L468.21 169.7 L468.12 170.3 L468.04 170.9 L467.96 171.5 L467.88 172.1 L467.81 172.7 L467.74 173.3 L467.67 173.9 L467.61 174.5 L467.55 175.1 L467.5 175.7 L462.5 175.7 L462.45 175.1 L462.39 174.5 L462.33 173.9 L462.26 173.3 L462.19 172.7 L462.12 172.1 L462.04 171.5 L461.96 170.9 L461.88 170.3 L461.79 169.7 L461.71 169.1 L461.61 168.5 L461.52 167.9 L461.42 167.3 L461.32 166.7 L461.21 166.1 L461.1 165.5 L460.98 164.9 L460.86 164.3 L460.73 163.7 L460.6 163.1 L460.45 162.5 L460.3 161.9 L460.15 161.3 L459.97 160.7 L459.78 160.1 L459.58 159.5 L459.36 158.9 L459.13 158.3 L458.89 157.7 L458.64 157.1 L458.37 156.5 L458.1 155.9 L457.82 155.3 L457.52 154.7 L457.23 154.1 L456.92 153.5 L456.6 152.9 L456.24 152.3 L455.87 151.7 L455.48 151.1 L455.07 150.5 L454.65 149.9 L454.22 149.3 L453.78 148.7 L453.34 148.1 L452.91 147.5 L452.47 146.9 L452.05 146.3 L451.63 145.7 L451.2 145.1 L450.76 144.5 L450.3 143.9 L449.84 143.3 L449.37 142.7 L448.91 142.1 L448.45 141.5 L448.01 140.9 L447.59 140.3 L447.19 139.7 L446.82 139.1 L446.49 138.5 L446.2 137.9 L445.94 137.3 L445.7 136.7 L445.49 136.1 L445.28 135.5 L445.09 134.9 L444.91 134.3 L444.74 133.7 L444.56 133.1 L444.38 132.5 L444.23 131.9 L444.13 131.3 L444.08 130.7 L444.05 130.1 L444.03 129.5 L444.01 128.9 L444 128.3 L444 127.7 L444.01 127.1 L444.04 126.5 L444.07 125.9 L444.11 125.3 L444.15 124.7 L444.19 124.1 L444.24 123.5 L444.3 122.9 L444.36 122.3 L444.44 121.7 L444.52 121.1 L444.61 120.5 L444.7 119.9 L444.8 119.3 L444.91 118.7 L445.03 118.1 L445.16 117.5 L445.31 116.9 L445.47 116.3 L445.63 115.7 L445.8 115.1 L445.98 114.5 L446.17 113.9 L446.36 113.3 L446.56 112.7 L446.76 112.1 L446.97 111.5 L447.17 110.9 L447.39 110.3 L447.62 109.7 L447.86 109.1 L448.11 108.5 L448.36 107.9 L448.63 107.3 L448.9 106.7 L449.18 106.1 L449.47 105.5 L449.77 104.9 L450.08 104.3 L450.39 103.7 L450.72 103.1 L451.07 102.5 L451.43 101.9 L451.81 101.3 L452.21 100.7 L452.62 100.1 L453.04 99.5 L453.47 98.9 L453.9 98.3 L454.33 97.7 L454.77 97.1 L455.2 96.5 L455.62 95.9 L456.05 95.3 L456.48 94.7 L456.91 94.1 L457.35 93.5 L457.79 92.9 L458.22 92.3 L458.66 91.7 L459.09 91.1 L459.55 90.5 L460.01 89.9 L460.46 89.3 L460.88 88.7 L461.24 88.1 L461.54 87.5 L461.82 86.9 L462.07 86.3 L462.31 85.7 L462.52 85.1 L462.72 84.5 L462.89 83.9 L463.05 83.3 L463.2 82.7 L463.33 82.1 L463.46 81.5 L463.57 80.9 L463.65 80.3 L463.72 79.7 L463.77 79.1 L463.82 78.5 L463.85 77.9 L463.89 77.3 L463.91 76.7 L463.94 76.1 L463.96 75.5 L463.98 74.9 L464 74.3Z" fill="#bebebe" stroke="#000" stroke-width="1.05" stroke-linejoin="round"/>
<line x1="464.9" y1="74.3" x2="464.9" y2="175.7" stroke="#000" stroke-width="0.9"/>
<rect x="463.3" y="113.3" width="3.4" height="25.5" fill="#000"/>
<circle cx="465.6" cy="126.2" r="2.3" fill="#fff"/>
<path d="M516.7 60.7 L516.7 61.3 L516.7 61.9 L516.71 62.5 L516.72 63.1 L516.74 63.7 L516.76 64.3 L516.78 64.9 L516.81 65.5 L516.84 66.1 L516.87 66.7 L516.91 67.3 L516.96 67.9 L517.01 68.5 L517.07 69.1 L517.13 69.7 L517.21 70.3 L517.32 70.9 L517.43 71.5 L517.52 72.1 L517.62 72.7 L517.73 73.3 L517.85 73.9 L517.99 74.5 L518.11 75.1 L518.16 75.7 L518.26 76.3 L518.4 76.9 L518.56 77.5 L518.74 78.1 L518.93 78.7 L519.13 79.3 L519.35 79.9 L519.56 80.5 L519.77 81.1 L520 81.7 L520.24 82.3 L520.48 82.9 L520.72 83.5 L520.98 84.1 L521.25 84.7 L521.52 85.3 L521.79 85.9 L522.07 86.5 L522.35 87.1 L522.76 87.7 L523.19 88.3 L523.6 88.9 L524.02 89.5 L524.44 90.1 L524.86 90.7 L525.28 91.3 L525.7 91.9 L526.16 92.5 L526.63 93.1 L527.1 93.7 L527.56 94.3 L528.01 94.9 L528.45 95.5 L528.87 96.1 L529.28 96.7 L529.71 97.3 L530.15 97.9 L530.58 98.5 L531.01 99.1 L531.44 99.7 L531.85 100.3 L532.26 100.9 L532.65 101.5 L533.02 102.1 L533.35 102.7 L533.67 103.3 L533.96 103.9 L534.23 104.5 L534.49 105.1 L534.75 105.7 L535 106.3 L535.23 106.9 L535.43 107.5 L535.61 108.1 L535.79 108.7 L535.96 109.3 L536.12 109.9 L536.26 110.5 L536.4 111.1 L536.52 111.7 L536.64 112.3 L536.77 112.9 L536.89 113.5 L537.01 114.1 L537.12 114.7 L537.23 115.3 L537.33 115.9 L537.41 116.5 L537.41 117.1 L537.39 117.7 L537.35 118.3 L537.27 118.9 L537.17 119.5 L537.05 120.1 L536.91 120.7 L536.75 121.3 L536.58 121.9 L536.41 122.5 L536.26 123.1 L536.1 123.7 L535.93 124.3 L535.73 124.9 L535.51 125.5 L535.27 126.1 L535.01 126.7 L534.74 127.3 L534.45 127.9 L534.15 128.5 L533.84 129.1 L533.53 129.7 L533.21 130.3 L532.9 130.9 L532.59 131.5 L532.27 132.1 L531.94 132.7 L531.61 133.3 L531.26 133.9 L530.9 134.5 L530.54 135.1 L530.18 135.7 L529.78 136.3 L529.38 136.9 L528.98 137.5 L528.58 138.1 L528.19 138.7 L527.8 139.3 L527.4 139.9 L527 140.5 L526.59 141.1 L526.18 141.7 L525.77 142.3 L525.36 142.9 L524.95 143.5 L524.58 144.1 L524.21 144.7 L523.86 145.3 L523.52 145.9 L523.18 146.5 L522.86 147.1 L522.55 147.7 L522.23 148.3 L521.95 148.9 L521.68 149.5 L521.4 150.1 L521.14 150.7 L520.88 151.3 L520.65 151.9 L520.45 152.5 L520.25 153.1 L520.07 153.7 L519.89 154.3 L519.72 154.9 L519.55 155.5 L519.39 156.1 L519.23 156.7 L519.07 157.3 L518.92 157.9 L518.78 158.5 L518.65 159.1 L518.53 159.7 L518.41 160.3 L518.3 160.9 L518.21 161.5 L518.13 162.1 L518.06 162.7 L517.99 163.3 L517.93 163.9 L517.88 164.5 L517.82 165.1 L517.75 165.7 L517.68 166.3 L517.63 166.9 L517.57 167.5 L517.53 168.1 L517.48 168.7 L517.45 169.3 L517.43 169.9 L517.41 170.5 L517.39 171.1 L517.37 171.7 L517.35 172.3 L517.34 172.9 L517.33 173.5 L517.32 174.1 L517.31 174.7 L517.31 175.3 L517.3 175.9 L517.29 176.5 L517.29 177.1 L517.28 177.7 L517.26 178.3 L517.25 178.9 L517.23 179.5 L517.2 180.1 L517.15 180.7 L517.1 181.3 L517.05 181.9 L517.01 182.5 L516.97 183.1 L516.94 183.7 L516.91 184.3 L516.88 184.9 L516.86 185.5 L516.85 186.1 L516.83 186.7 L516.81 187.3 L516.8 187.9 L516.79 188.5 L516.77 189.1 L516.76 189.7 L516.75 190.3 L516.74 190.9 L516.73 191.5 L516.72 192.1 L516.72 192.7 L516.71 193.3 L516.7 193.9 L516.7 194.5 L516.7 195.1 L516.7 195.7 L516.7 196.3 L516.7 196.3 L516.5 196.3 L516.5 196.3 L516.5 195.7 L516.5 195.1 L516.5 194.5 L516.5 193.9 L516.49 193.3 L516.48 192.7 L516.48 192.1 L516.47 191.5 L516.46 190.9 L516.45 190.3 L516.44 189.7 L516.43 189.1 L516.41 188.5 L516.4 187.9 L516.39 187.3 L516.37 186.7 L516.35 186.1 L516.34 185.5 L516.32 184.9 L516.29 184.3 L516.26 183.7 L516.23 183.1 L516.19 182.5 L516.15 181.9 L516.1 181.3 L516.05 180.7 L516 180.1 L515.97 179.5 L515.95 178.9 L515.94 178.3 L515.92 177.7 L515.91 177.1 L515.91 176.5 L515.9 175.9 L515.89 175.3 L515.89 174.7 L515.88 174.1 L515.87 173.5 L515.86 172.9 L515.85 172.3 L515.83 171.7 L515.81 171.1 L515.79 170.5 L515.77 169.9 L515.75 169.3 L515.72 168.7 L515.67 168.1 L515.63 167.5 L515.57 166.9 L515.52 166.3 L515.45 165.7 L515.38 165.1 L515.32 164.5 L515.27 163.9 L515.21 163.3 L515.14 162.7 L515.07 162.1 L514.99 161.5 L514.9 160.9 L514.79 160.3 L514.67 159.7 L514.55 159.1 L514.42 158.5 L514.28 157.9 L514.13 157.3 L513.97 156.7 L513.81 156.1 L513.65 155.5 L513.48 154.9 L513.31 154.3 L513.13 153.7 L512.95 153.1 L512.75 152.5 L512.55 151.9 L512.32 151.3 L512.06 150.7 L511.8 150.1 L511.52 149.5 L511.25 148.9 L510.97 148.3 L510.65 147.7 L510.34 147.1 L510.02 146.5 L509.68 145.9 L509.34 145.3 L508.99 144.7 L508.62 144.1 L508.25 143.5 L507.84 142.9 L507.43 142.3 L507.02 141.7 L506.61 141.1 L506.2 140.5 L505.8 139.9 L505.4 139.3 L505.01 138.7 L504.62 138.1 L504.22 137.5 L503.82 136.9 L503.42 136.3 L503.02 135.7 L502.66 135.1 L502.3 134.5 L501.94 133.9 L501.59 133.3 L501.26 132.7 L500.93 132.1 L500.61 131.5 L500.3 130.9 L499.99 130.3 L499.67 129.7 L499.36 129.1 L499.05 128.5 L498.75 127.9 L498.46 127.3 L498.19 126.7 L497.93 126.1 L497.69 125.5 L497.47 124.9 L497.27 124.3 L497.1 123.7 L496.94 123.1 L496.79 122.5 L496.62 121.9 L496.45 121.3 L496.29 120.7 L496.15 120.1 L496.03 119.5 L495.93 118.9 L495.85 118.3 L495.81 117.7 L495.79 117.1 L495.79 116.5 L495.87 115.9 L495.97 115.3 L496.08 114.7 L496.19 114.1 L496.31 113.5 L496.43 112.9 L496.56 112.3 L496.68 111.7 L496.8 111.1 L496.94 110.5 L497.08 109.9 L497.24 109.3 L497.41 108.7 L497.59 108.1 L497.77 107.5 L497.97 106.9 L498.2 106.3 L498.45 105.7 L498.71 105.1 L498.97 104.5 L499.24 103.9 L499.53 103.3 L499.85 102.7 L500.18 102.1 L500.55 101.5 L500.94 100.9 L501.35 100.3 L501.76 99.7 L502.19 99.1 L502.62 98.5 L503.05 97.9 L503.49 97.3 L503.92 96.7 L504.33 96.1 L504.75 95.5 L505.19 94.9 L505.64 94.3 L506.1 93.7 L506.57 93.1 L507.04 92.5 L507.5 91.9 L507.92 91.3 L508.34 90.7 L508.76 90.1 L509.18 89.5 L509.6 88.9 L510.01 88.3 L510.44 87.7 L510.85 87.1 L511.13 86.5 L511.41 85.9 L511.68 85.3 L511.95 84.7 L512.22 84.1 L512.48 83.5 L512.72 82.9 L512.96 82.3 L513.2 81.7 L513.43 81.1 L513.64 80.5 L513.85 79.9 L514.07 79.3 L514.27 78.7 L514.46 78.1 L514.64 77.5 L514.8 76.9 L514.94 76.3 L515.04 75.7 L515.09 75.1 L515.21 74.5 L515.35 73.9 L515.47 73.3 L515.58 72.7 L515.68 72.1 L515.77 71.5 L515.88 70.9 L515.99 70.3 L516.07 69.7 L516.13 69.1 L516.19 68.5 L516.24 67.9 L516.29 67.3 L516.33 66.7 L516.36 66.1 L516.39 65.5 L516.42 64.9 L516.44 64.3 L516.46 63.7 L516.48 63.1 L516.49 62.5 L516.5 61.9 L516.5 61.3 L516.5 60.7Z" fill="#bebebe" stroke="#000" stroke-width="1.05" stroke-linejoin="round"/>
<line x1="516.5" y1="62" x2="516.5" y2="165" stroke="#000" stroke-width="0.9"/>
<rect x="514.9" y="105.8" width="3.4" height="27.1" fill="#000"/>
<circle cx="517.2" cy="118.4" r="2.3" fill="#fff"/>
<path d="M568.84 70.3 L568.9 70.9 L568.96 71.5 L569.01 72.1 L569.04 72.7 L569.07 73.3 L569.1 73.9 L569.12 74.5 L569.14 75.1 L569.15 75.7 L569.17 76.3 L569.2 76.9 L569.25 77.5 L569.34 78.1 L569.45 78.7 L569.59 79.3 L569.75 79.9 L569.9 80.5 L570.05 81.1 L570.21 81.7 L570.37 82.3 L570.53 82.9 L570.74 83.5 L570.98 84.1 L571.24 84.7 L571.54 85.3 L571.77 85.9 L571.97 86.5 L572.17 87.1 L572.38 87.7 L572.58 88.3 L572.78 88.9 L573 89.5 L573.23 90.1 L573.53 90.7 L573.92 91.3 L574.34 91.9 L574.77 92.5 L575.21 93.1 L575.64 93.7 L576.09 94.3 L576.55 94.9 L577.06 95.5 L577.62 96.1 L578.18 96.7 L578.73 97.3 L579.28 97.9 L579.81 98.5 L580.33 99.1 L580.83 99.7 L581.32 100.3 L581.81 100.9 L582.3 101.5 L582.77 102.1 L583.24 102.7 L583.69 103.3 L584.12 103.9 L584.53 104.5 L584.91 105.1 L585.29 105.7 L585.67 106.3 L586.04 106.9 L586.4 107.5 L586.74 108.1 L587.06 108.7 L587.34 109.3 L587.59 109.9 L587.76 110.5 L587.9 111.1 L588.03 111.7 L588.15 112.3 L588.27 112.9 L588.38 113.5 L588.47 114.1 L588.56 114.7 L588.55 115.3 L588.52 115.9 L588.46 116.5 L588.36 117.1 L588.21 117.7 L588.01 118.3 L587.78 118.9 L587.53 119.5 L587.25 120.1 L586.97 120.7 L586.69 121.3 L586.42 121.9 L586.13 122.5 L585.82 123.1 L585.49 123.7 L585.14 124.3 L584.81 124.9 L584.5 125.5 L584.19 126.1 L583.87 126.7 L583.56 127.3 L583.26 127.9 L582.95 128.5 L582.64 129.1 L582.33 129.7 L582.01 130.3 L581.69 130.9 L581.37 131.5 L581.05 132.1 L580.73 132.7 L580.41 133.3 L580.09 133.9 L579.8 134.5 L579.52 135.1 L579.24 135.7 L578.96 136.3 L578.68 136.9 L578.39 137.5 L578.11 138.1 L577.82 138.7 L577.55 139.3 L577.25 139.9 L576.95 140.5 L576.66 141.1 L576.37 141.7 L576.1 142.3 L575.84 142.9 L575.58 143.5 L575.33 144.1 L575.08 144.7 L574.84 145.3 L574.61 145.9 L574.38 146.5 L574.16 147.1 L573.94 147.7 L573.74 148.3 L573.55 148.9 L573.37 149.5 L573.19 150.1 L573.02 150.7 L572.85 151.3 L572.69 151.9 L572.53 152.5 L572.37 153.1 L572.22 153.7 L572.06 154.3 L571.89 154.9 L571.72 155.5 L571.55 156.1 L571.4 156.7 L571.24 157.3 L571.09 157.9 L570.95 158.5 L570.8 159.1 L570.66 159.7 L570.52 160.3 L570.37 160.9 L570.23 161.5 L570.08 162.1 L569.93 162.7 L569.79 163.3 L569.64 163.9 L569.51 164.5 L569.39 165.1 L569.31 165.7 L569.23 166.3 L569.16 166.9 L569.09 167.5 L569.02 168.1 L568.92 168.7 L568.82 169.3 L568.73 169.9 L568.66 170.5 L568.6 171.1 L568.56 171.7 L568.52 172.3 L568.49 172.9 L568.47 173.5 L568.45 174.1 L568.43 174.7 L568.41 175.3 L568.39 175.9 L568.38 176.5 L568.37 177.1 L568.36 177.7 L568.36 178.3 L568.36 178.9 L568.36 179.5 L568.37 180.1 L568.37 180.7 L568.36 181.3 L568.36 181.9 L568.36 182.5 L568.36 183.1 L568.36 183.7 L568.35 184.3 L568.35 184.9 L568.35 185.5 L568.35 186.1 L568.35 186.7 L568.35 187.3 L568.35 187.9 L568.35 188.5 L568.35 189.1 L568.35 189.7 L568.35 190.3 L568.35 190.9 L568.35 191.5 L568.35 192.1 L568.35 192.7 L568.35 193.3 L568.35 193.9 L568.35 194.5 L568.35 195.1 L568.35 195.7 L568.35 196.3 L568.35 196.9 L568.35 197.5 L568.36 198.1 L568.36 198.7 L568.36 199.3 L568.36 199.9 L568.36 200.5 L568.37 201.1 L568.37 201.6 L568.03 201.6 L568.03 201.1 L568.04 200.5 L568.04 199.9 L568.04 199.3 L568.04 198.7 L568.04 198.1 L568.05 197.5 L568.05 196.9 L568.05 196.3 L568.05 195.7 L568.05 195.1 L568.05 194.5 L568.05 193.9 L568.05 193.3 L568.05 192.7 L568.05 192.1 L568.05 191.5 L568.05 190.9 L568.05 190.3 L568.05 189.7 L568.05 189.1 L568.05 188.5 L568.05 187.9 L568.05 187.3 L568.05 186.7 L568.05 186.1 L568.05 185.5 L568.05 184.9 L568.05 184.3 L568.04 183.7 L568.04 183.1 L568.04 182.5 L568.04 181.9 L568.04 181.3 L568.03 180.7 L568.03 180.1 L568.04 179.5 L568.04 178.9 L568.04 178.3 L568.04 177.7 L568.03 177.1 L568.02 176.5 L568.01 175.9 L567.99 175.3 L567.97 174.7 L567.95 174.1 L567.93 173.5 L567.91 172.9 L567.88 172.3 L567.84 171.7 L567.8 171.1 L567.74 170.5 L567.67 169.9 L567.58 169.3 L567.48 168.7 L567.38 168.1 L567.31 167.5 L567.24 166.9 L567.17 166.3 L567.09 165.7 L567.01 165.1 L566.89 164.5 L566.76 163.9 L566.61 163.3 L566.47 162.7 L566.32 162.1 L566.17 161.5 L566.03 160.9 L565.88 160.3 L565.74 159.7 L565.6 159.1 L565.45 158.5 L565.31 157.9 L565.16 157.3 L565 156.7 L564.85 156.1 L564.68 155.5 L564.51 154.9 L564.34 154.3 L564.18 153.7 L564.03 153.1 L563.87 152.5 L563.71 151.9 L563.55 151.3 L563.38 150.7 L563.21 150.1 L563.03 149.5 L562.85 148.9 L562.66 148.3 L562.46 147.7 L562.24 147.1 L562.02 146.5 L561.79 145.9 L561.56 145.3 L561.32 144.7 L561.07 144.1 L560.82 143.5 L560.56 142.9 L560.3 142.3 L560.03 141.7 L559.74 141.1 L559.45 140.5 L559.15 139.9 L558.85 139.3 L558.58 138.7 L558.29 138.1 L558.01 137.5 L557.72 136.9 L557.44 136.3 L557.16 135.7 L556.88 135.1 L556.6 134.5 L556.31 133.9 L555.99 133.3 L555.67 132.7 L555.35 132.1 L555.03 131.5 L554.71 130.9 L554.39 130.3 L554.07 129.7 L553.76 129.1 L553.45 128.5 L553.14 127.9 L552.84 127.3 L552.53 126.7 L552.21 126.1 L551.9 125.5 L551.59 124.9 L551.26 124.3 L550.91 123.7 L550.58 123.1 L550.27 122.5 L549.98 121.9 L549.71 121.3 L549.43 120.7 L549.15 120.1 L548.87 119.5 L548.62 118.9 L548.39 118.3 L548.19 117.7 L548.04 117.1 L547.94 116.5 L547.88 115.9 L547.85 115.3 L547.84 114.7 L547.93 114.1 L548.02 113.5 L548.13 112.9 L548.25 112.3 L548.37 111.7 L548.5 111.1 L548.64 110.5 L548.81 109.9 L549.06 109.3 L549.34 108.7 L549.66 108.1 L550 107.5 L550.36 106.9 L550.73 106.3 L551.11 105.7 L551.49 105.1 L551.87 104.5 L552.28 103.9 L552.71 103.3 L553.16 102.7 L553.63 102.1 L554.1 101.5 L554.59 100.9 L555.08 100.3 L555.57 99.7 L556.07 99.1 L556.59 98.5 L557.12 97.9 L557.67 97.3 L558.22 96.7 L558.78 96.1 L559.34 95.5 L559.85 94.9 L560.31 94.3 L560.76 93.7 L561.19 93.1 L561.63 92.5 L562.06 91.9 L562.48 91.3 L562.87 90.7 L563.17 90.1 L563.4 89.5 L563.62 88.9 L563.82 88.3 L564.02 87.7 L564.23 87.1 L564.43 86.5 L564.63 85.9 L564.86 85.3 L565.16 84.7 L565.42 84.1 L565.66 83.5 L565.87 82.9 L566.03 82.3 L566.19 81.7 L566.35 81.1 L566.5 80.5 L566.65 79.9 L566.81 79.3 L566.95 78.7 L567.06 78.1 L567.15 77.5 L567.2 76.9 L567.23 76.3 L567.25 75.7 L567.26 75.1 L567.28 74.5 L567.3 73.9 L567.33 73.3 L567.36 72.7 L567.39 72.1 L567.44 71.5 L567.5 70.9 L567.56 70.3Z" fill="#bebebe" stroke="#000" stroke-width="1.05" stroke-linejoin="round"/>
<line x1="568.1" y1="70.3" x2="568.1" y2="168" stroke="#000" stroke-width="0.9"/>
<rect x="566.5" y="108.2" width="3.4" height="24.4" fill="#000"/>
<circle cx="568.8" cy="118.3" r="2.3" fill="#fff"/>
<path d="M627.15 85.9 L627.57 86.5 L627.98 87.1 L628.4 87.7 L628.82 88.3 L629.23 88.9 L629.64 89.5 L630.05 90.1 L630.47 90.7 L630.88 91.3 L631.29 91.9 L631.7 92.5 L632.11 93.1 L632.52 93.7 L632.92 94.3 L633.32 94.9 L633.71 95.5 L634.1 96.1 L634.49 96.7 L634.88 97.3 L635.25 97.9 L635.62 98.5 L635.98 99.1 L636.32 99.7 L636.64 100.3 L636.95 100.9 L637.26 101.5 L637.55 102.1 L637.83 102.7 L638.09 103.3 L638.32 103.9 L638.53 104.5 L638.73 105.1 L638.93 105.7 L639.12 106.3 L639.28 106.9 L639.43 107.5 L639.55 108.1 L639.63 108.7 L639.69 109.3 L639.75 109.9 L639.8 110.5 L639.84 111.1 L639.9 111.7 L639.96 112.3 L640 112.9 L640.01 113.5 L640 114.1 L639.96 114.7 L639.91 115.3 L639.83 115.9 L639.74 116.5 L639.64 117.1 L639.54 117.7 L639.42 118.3 L639.26 118.9 L639.06 119.5 L638.84 120.1 L638.6 120.7 L638.35 121.3 L638.1 121.9 L637.85 122.5 L637.59 123.1 L637.31 123.7 L637.02 124.3 L636.71 124.9 L636.41 125.5 L636.11 126.1 L635.8 126.7 L635.51 127.3 L635.2 127.9 L634.9 128.5 L634.59 129.1 L634.29 129.7 L633.98 130.3 L633.68 130.9 L633.39 131.5 L633.09 132.1 L632.78 132.7 L632.48 133.3 L632.19 133.9 L631.9 134.5 L631.62 135.1 L631.36 135.7 L631.11 136.3 L630.87 136.9 L630.63 137.5 L630.4 138.1 L630.18 138.7 L629.98 139.3 L629.77 139.9 L629.57 140.5 L629.39 141.1 L629.21 141.7 L629.04 142.3 L628.88 142.9 L628.72 143.5 L628.56 144.1 L628.4 144.7 L628.23 145.3 L628.07 145.9 L627.91 146.5 L627.74 147.1 L627.59 147.7 L627.44 148.3 L627.29 148.9 L627.16 149.5 L627.03 150.1 L626.92 150.7 L626.8 151.3 L626.69 151.9 L626.58 152.5 L626.47 153.1 L626.35 153.7 L626.23 154.3 L626.09 154.9 L626.05 155.1 L613.15 155.1 L613.11 154.9 L612.97 154.3 L612.85 153.7 L612.73 153.1 L612.62 152.5 L612.51 151.9 L612.4 151.3 L612.28 150.7 L612.17 150.1 L612.04 149.5 L611.91 148.9 L611.76 148.3 L611.61 147.7 L611.46 147.1 L611.29 146.5 L611.13 145.9 L610.97 145.3 L610.8 144.7 L610.64 144.1 L610.48 143.5 L610.32 142.9 L610.16 142.3 L609.99 141.7 L609.81 141.1 L609.63 140.5 L609.43 139.9 L609.22 139.3 L609.02 138.7 L608.8 138.1 L608.57 137.5 L608.33 136.9 L608.09 136.3 L607.84 135.7 L607.58 135.1 L607.3 134.5 L607.01 133.9 L606.72 133.3 L606.42 132.7 L606.11 132.1 L605.81 131.5 L605.52 130.9 L605.22 130.3 L604.91 129.7 L604.61 129.1 L604.3 128.5 L604 127.9 L603.69 127.3 L603.4 126.7 L603.09 126.1 L602.79 125.5 L602.49 124.9 L602.18 124.3 L601.89 123.7 L601.61 123.1 L601.35 122.5 L601.1 121.9 L600.85 121.3 L600.6 120.7 L600.36 120.1 L600.14 119.5 L599.94 118.9 L599.78 118.3 L599.66 117.7 L599.56 117.1 L599.46 116.5 L599.37 115.9 L599.29 115.3 L599.24 114.7 L599.2 114.1 L599.19 113.5 L599.2 112.9 L599.24 112.3 L599.3 111.7 L599.36 111.1 L599.4 110.5 L599.45 109.9 L599.51 109.3 L599.57 108.7 L599.65 108.1 L599.77 107.5 L599.92 106.9 L600.08 106.3 L600.27 105.7 L600.47 105.1 L600.67 104.5 L600.88 103.9 L601.11 103.3 L601.37 102.7 L601.65 102.1 L601.94 101.5 L602.25 100.9 L602.56 100.3 L602.88 99.7 L603.22 99.1 L603.58 98.5 L603.95 97.9 L604.32 97.3 L604.71 96.7 L605.1 96.1 L605.49 95.5 L605.88 94.9 L606.28 94.3 L606.68 93.7 L607.09 93.1 L607.5 92.5 L607.91 91.9 L608.32 91.3 L608.73 90.7 L609.15 90.1 L609.56 89.5 L609.97 88.9 L610.38 88.3 L610.8 87.7 L611.22 87.1 L611.63 86.5 L612.05 85.9Z" fill="#bebebe" stroke="#000" stroke-width="1.05" stroke-linejoin="round"/>
<line x1="619.5" y1="85.9" x2="619.5" y2="155.1" stroke="#000" stroke-width="0.9"/>
<rect x="617.9" y="103.1" width="3.4" height="24.4" fill="#000"/>
<circle cx="620.2" cy="117.4" r="2.3" fill="#fff"/>
<rect x="403.1" y="33.45" width="278.5" height="180.45" fill="none" stroke="#000" stroke-width="1.1"/>
<line x1="398.1" y1="40.3" x2="403.1" y2="40.3" stroke="#000" stroke-width="1.1"/>
<text x="395.1" y="44.29" font-size="8.2" text-anchor="start" fill="#000" textLength="7.66" lengthAdjust="spacingAndGlyphs" transform="rotate(-90 395.1 44.29)">14</text>
<line x1="398.1" y1="71.4" x2="403.1" y2="71.4" stroke="#000" stroke-width="1.1"/>
<text x="395.1" y="75.32" font-size="8.2" text-anchor="start" fill="#000" textLength="7.66" lengthAdjust="spacingAndGlyphs" transform="rotate(-90 395.1 75.32)">12</text>
<line x1="398.1" y1="102.3" x2="403.1" y2="102.3" stroke="#000" stroke-width="1.1"/>
<text x="395.1" y="106.26" font-size="8.2" text-anchor="start" fill="#000" textLength="7.66" lengthAdjust="spacingAndGlyphs" transform="rotate(-90 395.1 106.26)">10</text>
<line x1="398.1" y1="133.3" x2="403.1" y2="133.3" stroke="#000" stroke-width="1.1"/>
<text x="395.1" y="135.22" font-size="8.2" text-anchor="start" fill="#000" textLength="3.83" lengthAdjust="spacingAndGlyphs" transform="rotate(-90 395.1 135.22)">8</text>
<line x1="398.1" y1="164.3" x2="403.1" y2="164.3" stroke="#000" stroke-width="1.1"/>
<text x="395.1" y="166.24" font-size="8.2" text-anchor="start" fill="#000" textLength="3.83" lengthAdjust="spacingAndGlyphs" transform="rotate(-90 395.1 166.24)">6</text>
<line x1="398.1" y1="195.4" x2="403.1" y2="195.4" stroke="#000" stroke-width="1.1"/>
<text x="395.1" y="197.29" font-size="8.2" text-anchor="start" fill="#000" textLength="3.83" lengthAdjust="spacingAndGlyphs" transform="rotate(-90 395.1 197.29)">4</text>
<line x1="413.4" y1="213.9" x2="413.4" y2="218.9" stroke="#000" stroke-width="1.1"/>
<line x1="464.6" y1="213.9" x2="464.6" y2="218.9" stroke="#000" stroke-width="1.1"/>
<line x1="516.3" y1="213.9" x2="516.3" y2="218.9" stroke="#000" stroke-width="1.1"/>
<line x1="567.7" y1="213.9" x2="567.7" y2="218.9" stroke="#000" stroke-width="1.1"/>
<line x1="619.1" y1="213.9" x2="619.1" y2="218.9" stroke="#000" stroke-width="1.1"/>
<line x1="670.9" y1="213.9" x2="670.9" y2="218.9" stroke="#000" stroke-width="1.1"/>
<text x="447.67" y="229.9" font-size="9.4" text-anchor="start" fill="#000" textLength="28.48" lengthAdjust="spacingAndGlyphs">Stage 1</text>
<text x="498.77" y="229.9" font-size="9.4" text-anchor="start" fill="#000" textLength="28.49" lengthAdjust="spacingAndGlyphs">Stage 2</text>
<text x="550.88" y="229.9" font-size="9.4" text-anchor="start" fill="#000" textLength="28.44" lengthAdjust="spacingAndGlyphs">Stage 3</text>
<text x="603.48" y="229.9" font-size="9.4" text-anchor="start" fill="#000" textLength="28.31" lengthAdjust="spacingAndGlyphs">Stage 4</text>
<text x="381" y="190.13" font-size="9.1" text-anchor="start" fill="#000" textLength="134.11" lengthAdjust="spacingAndGlyphs" transform="rotate(-90 381 190.13)">Relative KIF2C mRNA expression</text>
<text x="530.1" y="21.4" font-size="11.9" text-anchor="start" fill="#000" font-weight="bold" textLength="33.54" lengthAdjust="spacingAndGlyphs">KIF2C</text>
<text x="619.46" y="50.9" font-size="8.4" text-anchor="start" fill="#000" textLength="51.78" lengthAdjust="spacingAndGlyphs">F value:5.1968</text>
<text x="621.87" y="66" font-size="8.4" text-anchor="start" fill="#000" textLength="47.8" lengthAdjust="spacingAndGlyphs">Pr(&gt;F):0.0229</text>
<text transform="translate(359.61 14.9) scale(0.96 1)" font-size="21.6" font-weight="bold" fill="#000">B</text>
</g>
<g id="panel-C">
<path d="M113.35 370.2 L113.36 370.8 L113.39 371.4 L113.43 372 L113.48 372.6 L113.55 373.2 L113.62 373.8 L113.7 374.4 L113.79 375 L113.88 375.6 L113.98 376.2 L114.1 376.8 L114.25 377.4 L114.41 378 L114.59 378.6 L114.78 379.2 L114.97 379.8 L115.15 380.4 L115.33 381 L115.5 381.6 L115.67 382.2 L115.84 382.8 L116.01 383.4 L116.19 384 L116.37 384.6 L116.55 385.2 L116.74 385.8 L116.93 386.4 L117.12 387 L117.32 387.6 L117.49 388.2 L117.67 388.8 L117.86 389.4 L118.06 390 L118.27 390.6 L118.47 391.2 L118.68 391.8 L118.88 392.4 L119.09 393 L119.3 393.6 L119.52 394.2 L119.73 394.8 L119.96 395.4 L120.18 396 L120.42 396.6 L120.66 397.2 L120.94 397.8 L121.22 398.4 L121.51 399 L121.81 399.6 L122.11 400.2 L122.42 400.8 L122.74 401.4 L123.07 402 L123.42 402.6 L123.79 403.2 L124.17 403.8 L124.56 404.4 L124.96 405 L125.35 405.6 L125.74 406.2 L126.12 406.8 L126.51 407.4 L126.91 408 L127.3 408.6 L127.7 409.2 L128.09 409.8 L128.48 410.4 L128.84 411 L129.2 411.6 L129.53 412.2 L129.84 412.8 L130.14 413.4 L130.43 414 L130.71 414.6 L130.98 415.2 L131.24 415.8 L131.48 416.4 L131.7 417 L131.88 417.6 L132.06 418.2 L132.24 418.8 L132.42 419.4 L132.58 420 L132.71 420.6 L132.79 421.2 L132.83 421.8 L132.82 422.4 L132.79 423 L132.73 423.6 L132.65 424.2 L132.56 424.8 L132.46 425.4 L132.35 426 L132.2 426.6 L132.03 427.2 L131.82 427.8 L131.59 428.4 L131.34 429 L131.07 429.6 L130.79 430.2 L130.51 430.8 L130.23 431.4 L129.91 432 L129.56 432.6 L129.2 433.2 L128.81 433.8 L128.42 434.4 L128.01 435 L127.59 435.6 L127.17 436.2 L126.63 436.8 L126.06 437.4 L125.47 438 L124.87 438.6 L124.27 439.2 L123.67 439.8 L123.09 440.4 L122.53 441 L122.03 441.6 L121.53 442.2 L121.04 442.8 L120.56 443.4 L120.09 444 L119.63 444.6 L119.2 445.2 L118.8 445.8 L118.43 446.4 L118.09 447 L117.78 447.6 L117.5 448.2 L117.24 448.8 L116.99 449.4 L116.76 450 L116.54 450.6 L116.34 451.2 L116.15 451.8 L115.96 452.4 L115.78 453 L115.6 453.6 L115.44 454.2 L115.28 454.8 L115.13 455.4 L115 456 L114.88 456.6 L114.77 457.2 L114.68 457.8 L114.59 458.4 L114.52 459 L114.45 459.6 L114.41 460 L109.69 460 L109.65 459.6 L109.58 459 L109.51 458.4 L109.42 457.8 L109.33 457.2 L109.22 456.6 L109.1 456 L108.97 455.4 L108.82 454.8 L108.66 454.2 L108.5 453.6 L108.32 453 L108.14 452.4 L107.95 451.8 L107.76 451.2 L107.56 450.6 L107.34 450 L107.11 449.4 L106.86 448.8 L106.6 448.2 L106.32 447.6 L106.01 447 L105.67 446.4 L105.3 445.8 L104.9 445.2 L104.47 444.6 L104.01 444 L103.54 443.4 L103.06 442.8 L102.57 442.2 L102.07 441.6 L101.57 441 L101.01 440.4 L100.43 439.8 L99.83 439.2 L99.23 438.6 L98.63 438 L98.04 437.4 L97.47 436.8 L96.93 436.2 L96.51 435.6 L96.09 435 L95.68 434.4 L95.29 433.8 L94.9 433.2 L94.54 432.6 L94.19 432 L93.87 431.4 L93.59 430.8 L93.31 430.2 L93.03 429.6 L92.76 429 L92.51 428.4 L92.28 427.8 L92.07 427.2 L91.9 426.6 L91.75 426 L91.64 425.4 L91.54 424.8 L91.45 424.2 L91.37 423.6 L91.31 423 L91.28 422.4 L91.27 421.8 L91.31 421.2 L91.39 420.6 L91.52 420 L91.68 419.4 L91.86 418.8 L92.04 418.2 L92.22 417.6 L92.4 417 L92.62 416.4 L92.86 415.8 L93.12 415.2 L93.39 414.6 L93.67 414 L93.96 413.4 L94.26 412.8 L94.57 412.2 L94.9 411.6 L95.26 411 L95.62 410.4 L96.01 409.8 L96.4 409.2 L96.8 408.6 L97.19 408 L97.59 407.4 L97.98 406.8 L98.36 406.2 L98.75 405.6 L99.14 405 L99.54 404.4 L99.93 403.8 L100.31 403.2 L100.68 402.6 L101.03 402 L101.36 401.4 L101.68 400.8 L101.99 400.2 L102.29 399.6 L102.59 399 L102.88 398.4 L103.16 397.8 L103.44 397.2 L103.68 396.6 L103.92 396 L104.14 395.4 L104.37 394.8 L104.58 394.2 L104.8 393.6 L105.01 393 L105.22 392.4 L105.42 391.8 L105.63 391.2 L105.83 390.6 L106.04 390 L106.24 389.4 L106.43 388.8 L106.61 388.2 L106.78 387.6 L106.98 387 L107.17 386.4 L107.36 385.8 L107.55 385.2 L107.73 384.6 L107.91 384 L108.09 383.4 L108.26 382.8 L108.43 382.2 L108.6 381.6 L108.77 381 L108.95 380.4 L109.13 379.8 L109.32 379.2 L109.51 378.6 L109.69 378 L109.85 377.4 L110 376.8 L110.12 376.2 L110.22 375.6 L110.31 375 L110.4 374.4 L110.48 373.8 L110.55 373.2 L110.62 372.6 L110.67 372 L110.71 371.4 L110.74 370.8 L110.75 370.2Z" fill="#bebebe" stroke="#000" stroke-width="1.05" stroke-linejoin="round"/>
<line x1="111.95" y1="378.4" x2="111.95" y2="460" stroke="#000" stroke-width="0.9"/>
<rect x="110.35" y="410.3" width="3.4" height="21.2" fill="#000"/>
<circle cx="112.65" cy="421.4" r="2.3" fill="#fff"/>
<path d="M165.05 369.2 L165.11 369.8 L165.18 370.4 L165.26 371 L165.35 371.6 L165.44 372.2 L165.54 372.8 L165.64 373.4 L165.74 374 L165.85 374.6 L165.97 375.2 L166.09 375.8 L166.23 376.4 L166.37 377 L166.53 377.6 L166.7 378.2 L166.88 378.8 L167.08 379.4 L167.29 380 L167.55 380.6 L167.84 381.2 L168.17 381.8 L168.51 382.4 L168.87 383 L169.25 383.6 L169.65 384.2 L170.04 384.8 L170.42 385.4 L170.81 386 L171.21 386.6 L171.62 387.2 L172.03 387.8 L172.43 388.4 L172.83 389 L173.22 389.6 L173.6 390.2 L173.97 390.8 L174.34 391.4 L174.7 392 L175.06 392.6 L175.42 393.2 L175.76 393.8 L176.09 394.4 L176.4 395 L176.7 395.6 L176.98 396.2 L177.25 396.8 L177.5 397.4 L177.75 398 L178 398.6 L178.24 399.2 L178.48 399.8 L178.73 400.4 L178.97 401 L179.22 401.6 L179.47 402.2 L179.72 402.8 L179.96 403.4 L180.2 404 L180.44 404.6 L180.68 405.2 L180.91 405.8 L181.14 406.4 L181.38 407 L181.62 407.6 L181.85 408.2 L182.08 408.8 L182.3 409.4 L182.51 410 L182.71 410.6 L182.9 411.2 L183.09 411.8 L183.29 412.4 L183.49 413 L183.68 413.6 L183.86 414.2 L184.01 414.8 L184.12 415.4 L184.19 416 L184.2 416.6 L184.14 417.2 L184.02 417.8 L183.86 418.4 L183.68 419 L183.47 419.6 L183.27 420.2 L183.06 420.8 L182.82 421.4 L182.56 422 L182.27 422.6 L181.95 423.2 L181.63 423.8 L181.29 424.4 L180.95 425 L180.6 425.6 L180.24 426.2 L179.87 426.8 L179.47 427.4 L179.06 428 L178.65 428.6 L178.22 429.2 L177.79 429.8 L177.36 430.4 L176.93 431 L176.49 431.6 L176.05 432.2 L175.59 432.8 L175.13 433.4 L174.67 434 L174.22 434.6 L173.76 435.2 L173.32 435.8 L172.88 436.4 L172.44 437 L172 437.6 L171.56 438.2 L171.12 438.8 L170.69 439.4 L170.28 440 L169.89 440.6 L169.52 441.2 L169.17 441.8 L168.85 442.4 L168.55 443 L168.25 443.6 L167.97 444.2 L167.71 444.8 L167.45 445.4 L167.22 446 L167 446.6 L166.8 447.2 L166.61 447.8 L166.43 448.4 L166.26 449 L166.1 449.6 L165.94 450.2 L165.79 450.8 L165.65 451.4 L165.52 452 L165.39 452.6 L165.25 453.2 L165.12 453.8 L165 454.4 L164.88 455 L164.77 455.6 L164.66 456.2 L164.55 456.8 L164.45 457.4 L164.35 458 L164.25 458.6 L164.09 459.2 L163.96 459.8 L163.85 460.4 L163.75 461 L163.71 461.3 L163.19 461.3 L163.15 461 L163.05 460.4 L162.94 459.8 L162.81 459.2 L162.65 458.6 L162.55 458 L162.45 457.4 L162.35 456.8 L162.24 456.2 L162.13 455.6 L162.02 455 L161.9 454.4 L161.78 453.8 L161.65 453.2 L161.51 452.6 L161.38 452 L161.25 451.4 L161.11 450.8 L160.96 450.2 L160.8 449.6 L160.64 449 L160.47 448.4 L160.29 447.8 L160.1 447.2 L159.9 446.6 L159.68 446 L159.45 445.4 L159.19 444.8 L158.93 444.2 L158.65 443.6 L158.35 443 L158.05 442.4 L157.73 441.8 L157.38 441.2 L157.01 440.6 L156.62 440 L156.21 439.4 L155.78 438.8 L155.34 438.2 L154.9 437.6 L154.46 437 L154.02 436.4 L153.58 435.8 L153.14 435.2 L152.68 434.6 L152.23 434 L151.77 433.4 L151.31 432.8 L150.85 432.2 L150.41 431.6 L149.97 431 L149.54 430.4 L149.11 429.8 L148.68 429.2 L148.25 428.6 L147.84 428 L147.43 427.4 L147.03 426.8 L146.66 426.2 L146.3 425.6 L145.95 425 L145.61 424.4 L145.27 423.8 L144.95 423.2 L144.63 422.6 L144.34 422 L144.08 421.4 L143.84 420.8 L143.63 420.2 L143.43 419.6 L143.22 419 L143.04 418.4 L142.88 417.8 L142.76 417.2 L142.7 416.6 L142.71 416 L142.78 415.4 L142.89 414.8 L143.04 414.2 L143.22 413.6 L143.41 413 L143.61 412.4 L143.81 411.8 L144 411.2 L144.19 410.6 L144.39 410 L144.6 409.4 L144.82 408.8 L145.05 408.2 L145.28 407.6 L145.52 407 L145.76 406.4 L145.99 405.8 L146.22 405.2 L146.46 404.6 L146.7 404 L146.94 403.4 L147.18 402.8 L147.43 402.2 L147.68 401.6 L147.93 401 L148.17 400.4 L148.42 399.8 L148.66 399.2 L148.9 398.6 L149.15 398 L149.4 397.4 L149.65 396.8 L149.92 396.2 L150.2 395.6 L150.5 395 L150.81 394.4 L151.14 393.8 L151.48 393.2 L151.84 392.6 L152.2 392 L152.56 391.4 L152.93 390.8 L153.3 390.2 L153.68 389.6 L154.07 389 L154.47 388.4 L154.87 387.8 L155.28 387.2 L155.69 386.6 L156.09 386 L156.48 385.4 L156.86 384.8 L157.25 384.2 L157.65 383.6 L158.03 383 L158.39 382.4 L158.73 381.8 L159.06 381.2 L159.35 380.6 L159.61 380 L159.82 379.4 L160.02 378.8 L160.2 378.2 L160.37 377.6 L160.53 377 L160.67 376.4 L160.81 375.8 L160.93 375.2 L161.05 374.6 L161.16 374 L161.26 373.4 L161.36 372.8 L161.46 372.2 L161.55 371.6 L161.64 371 L161.72 370.4 L161.79 369.8 L161.85 369.2Z" fill="#bebebe" stroke="#000" stroke-width="1.05" stroke-linejoin="round"/>
<line x1="163.35" y1="369.2" x2="163.35" y2="461.3" stroke="#000" stroke-width="0.9"/>
<rect x="161.75" y="402" width="3.4" height="23.4" fill="#000"/>
<circle cx="164.05" cy="414.9" r="2.3" fill="#fff"/>
<path d="M216.5 372.6 L216.53 373.2 L216.57 373.8 L216.63 374.4 L216.7 375 L216.78 375.6 L216.87 376.2 L216.97 376.8 L217.07 377.4 L217.18 378 L217.29 378.6 L217.42 379.2 L217.58 379.8 L217.7 380.4 L217.82 381 L217.95 381.6 L218.08 382.2 L218.23 382.8 L218.38 383.4 L218.53 384 L218.71 384.6 L218.89 385.2 L219.1 385.8 L219.31 386.4 L219.51 387 L219.71 387.6 L219.92 388.2 L220.13 388.8 L220.36 389.4 L220.6 390 L220.86 390.6 L221.15 391.2 L221.53 391.8 L221.98 392.4 L222.44 393 L222.89 393.6 L223.35 394.2 L223.83 394.8 L224.32 395.4 L224.82 396 L225.32 396.6 L225.84 397.2 L226.36 397.8 L226.86 398.4 L227.35 399 L227.82 399.6 L228.29 400.2 L228.76 400.8 L229.22 401.4 L229.68 402 L230.13 402.6 L230.56 403.2 L230.99 403.8 L231.39 404.4 L231.8 405 L232.2 405.6 L232.61 406.2 L233.02 406.8 L233.41 407.4 L233.79 408 L234.13 408.6 L234.44 409.2 L234.72 409.8 L234.99 410.4 L235.26 411 L235.4 411.6 L235.52 412.2 L235.6 412.8 L235.62 413.4 L235.58 414 L235.45 414.6 L235.26 415.2 L235.02 415.8 L234.75 416.4 L234.46 417 L234.17 417.6 L233.82 418.2 L233.41 418.8 L232.95 419.4 L232.44 420 L231.91 420.6 L231.41 421.2 L230.93 421.8 L230.46 422.4 L230.02 423 L229.56 423.6 L229.08 424.2 L228.6 424.8 L228.12 425.4 L227.64 426 L227.19 426.6 L226.77 427.2 L226.39 427.8 L226.05 428.4 L225.73 429 L225.42 429.6 L225.13 430.2 L224.84 430.8 L224.55 431.4 L224.28 432 L224.02 432.6 L223.77 433.2 L223.54 433.8 L223.33 434.4 L223.14 435 L222.95 435.6 L222.77 436.2 L222.59 436.8 L222.41 437.4 L222.22 438 L222.02 438.6 L221.81 439.2 L221.59 439.8 L221.38 440.4 L221.16 441 L220.94 441.6 L220.72 442.2 L220.51 442.8 L220.29 443.4 L220.07 444 L219.83 444.6 L219.58 445.2 L219.32 445.8 L219.06 446.4 L218.8 447 L218.55 447.6 L218.31 448.2 L218.09 448.8 L217.89 449.4 L217.68 450 L217.48 450.6 L217.28 451.2 L217.08 451.8 L216.9 452.4 L216.74 453 L216.6 453.6 L216.51 454.2 L216.44 454.8 L216.38 455.4 L216.32 456 L216.28 456.6 L216.24 457.2 L216.2 457.8 L216.16 458.4 L216.13 459 L216.09 459.6 L216.06 460.2 L216.04 460.8 L216.02 461.4 L215.99 462 L215.95 462.6 L215.91 463.2 L215.86 463.8 L215.8 464.4 L215.73 465 L215.61 465.6 L215.47 466.2 L215.37 466.7 L215.03 466.7 L214.93 466.2 L214.79 465.6 L214.67 465 L214.6 464.4 L214.54 463.8 L214.49 463.2 L214.45 462.6 L214.41 462 L214.38 461.4 L214.36 460.8 L214.34 460.2 L214.31 459.6 L214.27 459 L214.24 458.4 L214.2 457.8 L214.16 457.2 L214.12 456.6 L214.08 456 L214.02 455.4 L213.96 454.8 L213.89 454.2 L213.8 453.6 L213.66 453 L213.5 452.4 L213.32 451.8 L213.12 451.2 L212.92 450.6 L212.72 450 L212.51 449.4 L212.31 448.8 L212.09 448.2 L211.85 447.6 L211.6 447 L211.34 446.4 L211.08 445.8 L210.82 445.2 L210.57 444.6 L210.33 444 L210.11 443.4 L209.89 442.8 L209.68 442.2 L209.46 441.6 L209.24 441 L209.02 440.4 L208.81 439.8 L208.59 439.2 L208.38 438.6 L208.18 438 L207.99 437.4 L207.81 436.8 L207.63 436.2 L207.45 435.6 L207.26 435 L207.07 434.4 L206.86 433.8 L206.63 433.2 L206.38 432.6 L206.12 432 L205.85 431.4 L205.56 430.8 L205.27 430.2 L204.98 429.6 L204.67 429 L204.35 428.4 L204.01 427.8 L203.63 427.2 L203.21 426.6 L202.76 426 L202.28 425.4 L201.8 424.8 L201.32 424.2 L200.84 423.6 L200.38 423 L199.94 422.4 L199.47 421.8 L198.99 421.2 L198.49 420.6 L197.96 420 L197.45 419.4 L196.99 418.8 L196.58 418.2 L196.23 417.6 L195.94 417 L195.65 416.4 L195.38 415.8 L195.14 415.2 L194.95 414.6 L194.82 414 L194.78 413.4 L194.8 412.8 L194.88 412.2 L195 411.6 L195.14 411 L195.41 410.4 L195.68 409.8 L195.96 409.2 L196.27 408.6 L196.61 408 L196.99 407.4 L197.38 406.8 L197.79 406.2 L198.2 405.6 L198.6 405 L199.01 404.4 L199.41 403.8 L199.84 403.2 L200.27 402.6 L200.72 402 L201.18 401.4 L201.64 400.8 L202.11 400.2 L202.58 399.6 L203.05 399 L203.54 398.4 L204.04 397.8 L204.56 397.2 L205.08 396.6 L205.58 396 L206.08 395.4 L206.57 394.8 L207.05 394.2 L207.51 393.6 L207.96 393 L208.42 392.4 L208.87 391.8 L209.25 391.2 L209.54 390.6 L209.8 390 L210.04 389.4 L210.27 388.8 L210.48 388.2 L210.69 387.6 L210.89 387 L211.09 386.4 L211.3 385.8 L211.51 385.2 L211.69 384.6 L211.87 384 L212.02 383.4 L212.17 382.8 L212.32 382.2 L212.45 381.6 L212.58 381 L212.7 380.4 L212.82 379.8 L212.98 379.2 L213.11 378.6 L213.22 378 L213.33 377.4 L213.43 376.8 L213.53 376.2 L213.62 375.6 L213.7 375 L213.77 374.4 L213.83 373.8 L213.87 373.2 L213.9 372.6Z" fill="#bebebe" stroke="#000" stroke-width="1.05" stroke-linejoin="round"/>
<line x1="215.1" y1="372.6" x2="215.1" y2="452.5" stroke="#000" stroke-width="0.9"/>
<rect x="213.5" y="404.4" width="3.4" height="20.3" fill="#000"/>
<circle cx="215.8" cy="413.8" r="2.3" fill="#fff"/>
<path d="M270.42 379 L270.58 379.6 L270.77 380.2 L270.97 380.8 L271.2 381.4 L271.44 382 L271.7 382.6 L271.97 383.2 L272.28 383.8 L272.65 384.4 L273.04 385 L273.45 385.6 L273.88 386.2 L274.31 386.8 L274.74 387.4 L275.21 388 L275.69 388.6 L276.19 389.2 L276.68 389.8 L277.17 390.4 L277.65 391 L278.12 391.6 L278.58 392.2 L279.04 392.8 L279.5 393.4 L279.94 394 L280.37 394.6 L280.79 395.2 L281.18 395.8 L281.57 396.4 L281.95 397 L282.32 397.6 L282.68 398.2 L283.03 398.8 L283.39 399.4 L283.75 400 L284.1 400.6 L284.45 401.2 L284.78 401.8 L285.08 402.4 L285.35 403 L285.59 403.6 L285.82 404.2 L286.03 404.8 L286.23 405.4 L286.41 406 L286.56 406.6 L286.69 407.2 L286.82 407.8 L286.94 408.4 L287.05 409 L287.15 409.6 L287.21 410.2 L287.25 410.8 L287.24 411.4 L287.2 412 L287.12 412.6 L287.02 413.2 L286.91 413.8 L286.78 414.4 L286.65 415 L286.5 415.6 L286.31 416.2 L286.09 416.8 L285.85 417.4 L285.6 418 L285.33 418.6 L285.06 419.2 L284.77 419.8 L284.45 420.4 L284.12 421 L283.77 421.6 L283.42 422.2 L283.07 422.8 L282.71 423.4 L282.35 424 L281.98 424.6 L281.6 425.2 L281.22 425.8 L280.83 426.4 L280.45 427 L280.06 427.6 L279.66 428.2 L279.25 428.8 L278.85 429.4 L278.45 430 L278.08 430.6 L277.74 431.2 L277.41 431.8 L277.1 432.4 L276.8 433 L276.51 433.6 L276.22 434.2 L275.94 434.8 L275.66 435.4 L275.38 436 L275.11 436.6 L274.84 437.2 L274.58 437.8 L274.35 438.4 L274.15 439 L273.97 439.6 L273.81 440.2 L273.66 440.8 L273.53 441.4 L273.45 441.8 L259.55 441.8 L259.47 441.4 L259.34 440.8 L259.19 440.2 L259.03 439.6 L258.85 439 L258.65 438.4 L258.42 437.8 L258.16 437.2 L257.89 436.6 L257.62 436 L257.34 435.4 L257.06 434.8 L256.78 434.2 L256.49 433.6 L256.2 433 L255.9 432.4 L255.59 431.8 L255.26 431.2 L254.92 430.6 L254.55 430 L254.15 429.4 L253.75 428.8 L253.34 428.2 L252.94 427.6 L252.55 427 L252.17 426.4 L251.78 425.8 L251.4 425.2 L251.02 424.6 L250.65 424 L250.29 423.4 L249.93 422.8 L249.58 422.2 L249.23 421.6 L248.88 421 L248.55 420.4 L248.23 419.8 L247.94 419.2 L247.67 418.6 L247.4 418 L247.15 417.4 L246.91 416.8 L246.69 416.2 L246.5 415.6 L246.35 415 L246.22 414.4 L246.09 413.8 L245.98 413.2 L245.88 412.6 L245.8 412 L245.76 411.4 L245.75 410.8 L245.79 410.2 L245.85 409.6 L245.95 409 L246.06 408.4 L246.18 407.8 L246.31 407.2 L246.44 406.6 L246.59 406 L246.77 405.4 L246.97 404.8 L247.18 404.2 L247.41 403.6 L247.65 403 L247.92 402.4 L248.22 401.8 L248.55 401.2 L248.9 400.6 L249.25 400 L249.61 399.4 L249.97 398.8 L250.32 398.2 L250.68 397.6 L251.05 397 L251.43 396.4 L251.82 395.8 L252.21 395.2 L252.63 394.6 L253.06 394 L253.5 393.4 L253.96 392.8 L254.42 392.2 L254.88 391.6 L255.35 391 L255.83 390.4 L256.32 389.8 L256.81 389.2 L257.31 388.6 L257.79 388 L258.26 387.4 L258.69 386.8 L259.12 386.2 L259.55 385.6 L259.96 385 L260.35 384.4 L260.72 383.8 L261.03 383.2 L261.3 382.6 L261.56 382 L261.8 381.4 L262.03 380.8 L262.23 380.2 L262.42 379.6 L262.58 379Z" fill="#bebebe" stroke="#000" stroke-width="1.05" stroke-linejoin="round"/>
<line x1="266.4" y1="379" x2="266.4" y2="441.8" stroke="#000" stroke-width="0.9"/>
<rect x="264.8" y="402.5" width="3.4" height="19.5" fill="#000"/>
<circle cx="267.1" cy="413.2" r="2.3" fill="#fff"/>
<rect x="50.2" y="325.5" width="278.5" height="180.9" fill="none" stroke="#000" stroke-width="1.1"/>
<line x1="45.2" y1="332.2" x2="50.2" y2="332.2" stroke="#000" stroke-width="1.1"/>
<text x="42.2" y="336.19" font-size="8.2" text-anchor="start" fill="#000" textLength="7.66" lengthAdjust="spacingAndGlyphs" transform="rotate(-90 42.2 336.19)">14</text>
<line x1="45.2" y1="363.1" x2="50.2" y2="363.1" stroke="#000" stroke-width="1.1"/>
<text x="42.2" y="367.02" font-size="8.2" text-anchor="start" fill="#000" textLength="7.66" lengthAdjust="spacingAndGlyphs" transform="rotate(-90 42.2 367.02)">12</text>
<line x1="45.2" y1="394.2" x2="50.2" y2="394.2" stroke="#000" stroke-width="1.1"/>
<text x="42.2" y="398.16" font-size="8.2" text-anchor="start" fill="#000" textLength="7.66" lengthAdjust="spacingAndGlyphs" transform="rotate(-90 42.2 398.16)">10</text>
<line x1="45.2" y1="425.2" x2="50.2" y2="425.2" stroke="#000" stroke-width="1.1"/>
<text x="42.2" y="427.12" font-size="8.2" text-anchor="start" fill="#000" textLength="3.83" lengthAdjust="spacingAndGlyphs" transform="rotate(-90 42.2 427.12)">8</text>
<line x1="45.2" y1="456.2" x2="50.2" y2="456.2" stroke="#000" stroke-width="1.1"/>
<text x="42.2" y="458.14" font-size="8.2" text-anchor="start" fill="#000" textLength="3.83" lengthAdjust="spacingAndGlyphs" transform="rotate(-90 42.2 458.14)">6</text>
<line x1="45.2" y1="487.1" x2="50.2" y2="487.1" stroke="#000" stroke-width="1.1"/>
<text x="42.2" y="488.99" font-size="8.2" text-anchor="start" fill="#000" textLength="3.83" lengthAdjust="spacingAndGlyphs" transform="rotate(-90 42.2 488.99)">4</text>
<line x1="60.4" y1="506.4" x2="60.4" y2="511.4" stroke="#000" stroke-width="1.1"/>
<line x1="111.9" y1="506.4" x2="111.9" y2="511.4" stroke="#000" stroke-width="1.1"/>
<line x1="163.6" y1="506.4" x2="163.6" y2="511.4" stroke="#000" stroke-width="1.1"/>
<line x1="215" y1="506.4" x2="215" y2="511.4" stroke="#000" stroke-width="1.1"/>
<line x1="266.4" y1="506.4" x2="266.4" y2="511.4" stroke="#000" stroke-width="1.1"/>
<line x1="318.3" y1="506.4" x2="318.3" y2="511.4" stroke="#000" stroke-width="1.1"/>
<text x="97.52" y="522.8" font-size="9.4" text-anchor="start" fill="#000" textLength="28.48" lengthAdjust="spacingAndGlyphs">Stage 1</text>
<text x="148.62" y="522.8" font-size="9.4" text-anchor="start" fill="#000" textLength="28.49" lengthAdjust="spacingAndGlyphs">Stage 2</text>
<text x="200.78" y="522.8" font-size="9.4" text-anchor="start" fill="#000" textLength="28.44" lengthAdjust="spacingAndGlyphs">Stage 3</text>
<text x="253.28" y="522.8" font-size="9.4" text-anchor="start" fill="#000" textLength="28.31" lengthAdjust="spacingAndGlyphs">Stage 4</text>
<text x="29.4" y="483.13" font-size="9.1" text-anchor="start" fill="#000" textLength="138.71" lengthAdjust="spacingAndGlyphs" transform="rotate(-90 29.4 483.13)">Relative CDCA8 mRNA expression</text>
<text x="171.22" y="314.55" font-size="11.9" text-anchor="start" fill="#000" font-weight="bold" textLength="40.24" lengthAdjust="spacingAndGlyphs">CDCA8</text>
<text x="266.91" y="342.8" font-size="8.4" text-anchor="start" fill="#000" textLength="51.26" lengthAdjust="spacingAndGlyphs">F value:3.8975</text>
<text x="268.06" y="357.9" font-size="8.4" text-anchor="start" fill="#000" textLength="48.03" lengthAdjust="spacingAndGlyphs">Pr(&gt;F):0.0487</text>
<text transform="translate(-0.15 302.85) scale(0.96 1)" font-size="21.6" font-weight="bold" fill="#000">C</text>
</g>
<g id="panel-D">
<path d="M469.61 385.1 L469.61 385.7 L469.68 386.3 L469.79 386.9 L469.94 387.5 L470.11 388.1 L470.32 388.7 L470.63 389.3 L471.03 389.9 L471.47 390.5 L471.95 391.1 L472.42 391.7 L472.88 392.3 L473.42 392.9 L473.99 393.5 L474.62 394.1 L475.31 394.7 L475.99 395.3 L476.65 395.9 L477.28 396.5 L477.91 397.1 L478.54 397.7 L479.16 398.3 L479.76 398.9 L480.36 399.5 L480.93 400.1 L481.5 400.7 L482.07 401.3 L482.65 401.9 L483.21 402.5 L483.74 403.1 L484.22 403.7 L484.66 404.3 L485.06 404.9 L485.45 405.5 L485.83 406.1 L486.18 406.7 L486.48 407.3 L486.72 407.9 L486.89 408.5 L487 409.1 L487.11 409.7 L487.21 410.3 L487.3 410.9 L487.37 411.5 L487.42 412.1 L487.46 412.7 L487.46 413.3 L487.45 413.9 L487.42 414.5 L487.38 415.1 L487.33 415.7 L487.27 416.3 L487.21 416.9 L487.14 417.5 L487.05 418.1 L486.95 418.7 L486.82 419.3 L486.69 419.9 L486.55 420.5 L486.4 421.1 L486.25 421.7 L486.1 422.3 L485.94 422.9 L485.8 423.5 L485.65 424.1 L485.49 424.7 L485.33 425.3 L485.15 425.9 L484.97 426.5 L484.78 427.1 L484.57 427.7 L484.36 428.3 L484.12 428.9 L483.87 429.5 L483.61 430.1 L483.33 430.7 L483.04 431.3 L482.7 431.9 L482.35 432.5 L482 433.1 L481.65 433.7 L481.28 434.3 L480.9 434.9 L480.51 435.5 L480.12 436.1 L479.73 436.7 L479.34 437.3 L478.96 437.9 L478.6 438.5 L478.24 439.1 L477.88 439.7 L477.52 440.3 L477.16 440.9 L476.8 441.5 L476.45 442.1 L476.11 442.7 L475.79 443.3 L475.47 443.9 L475.16 444.5 L474.87 445.1 L474.57 445.7 L474.28 446.3 L474 446.9 L473.73 447.5 L473.47 448.1 L473.21 448.7 L472.97 449.3 L472.75 449.9 L472.55 450.5 L472.36 451.1 L472.18 451.7 L472 452.3 L471.83 452.9 L471.66 453.5 L471.51 454.1 L471.35 454.7 L471.21 455.3 L471.07 455.9 L470.95 456.5 L470.83 457.1 L470.71 457.7 L470.6 458.3 L470.49 458.9 L470.39 459.5 L470.29 460.1 L470.19 460.7 L470.09 461.3 L469.99 461.9 L469.9 462.5 L469.8 463.1 L469.71 463.7 L469.62 464.3 L469.54 464.9 L469.46 465.5 L469.38 466.1 L469.31 466.7 L469.24 467.3 L469.17 467.9 L469.1 468.5 L469.04 469.1 L468.98 469.7 L468.91 470.3 L468.86 470.9 L468.8 471.5 L468.74 472.1 L468.69 472.7 L468.64 473.3 L468.59 473.9 L468.55 474.5 L465.95 474.5 L465.91 473.9 L465.86 473.3 L465.81 472.7 L465.76 472.1 L465.7 471.5 L465.64 470.9 L465.59 470.3 L465.52 469.7 L465.46 469.1 L465.4 468.5 L465.33 467.9 L465.26 467.3 L465.19 466.7 L465.12 466.1 L465.04 465.5 L464.96 464.9 L464.88 464.3 L464.79 463.7 L464.7 463.1 L464.6 462.5 L464.51 461.9 L464.41 461.3 L464.31 460.7 L464.21 460.1 L464.11 459.5 L464.01 458.9 L463.9 458.3 L463.79 457.7 L463.67 457.1 L463.55 456.5 L463.43 455.9 L463.29 455.3 L463.15 454.7 L462.99 454.1 L462.84 453.5 L462.67 452.9 L462.5 452.3 L462.32 451.7 L462.14 451.1 L461.95 450.5 L461.75 449.9 L461.53 449.3 L461.29 448.7 L461.03 448.1 L460.77 447.5 L460.5 446.9 L460.22 446.3 L459.93 445.7 L459.63 445.1 L459.34 444.5 L459.03 443.9 L458.71 443.3 L458.39 442.7 L458.05 442.1 L457.7 441.5 L457.34 440.9 L456.98 440.3 L456.62 439.7 L456.26 439.1 L455.9 438.5 L455.54 437.9 L455.16 437.3 L454.77 436.7 L454.38 436.1 L453.99 435.5 L453.6 434.9 L453.22 434.3 L452.85 433.7 L452.5 433.1 L452.15 432.5 L451.8 431.9 L451.46 431.3 L451.17 430.7 L450.89 430.1 L450.63 429.5 L450.38 428.9 L450.14 428.3 L449.93 427.7 L449.72 427.1 L449.53 426.5 L449.35 425.9 L449.17 425.3 L449.01 424.7 L448.85 424.1 L448.7 423.5 L448.56 422.9 L448.4 422.3 L448.25 421.7 L448.1 421.1 L447.95 420.5 L447.81 419.9 L447.68 419.3 L447.55 418.7 L447.45 418.1 L447.36 417.5 L447.29 416.9 L447.23 416.3 L447.17 415.7 L447.12 415.1 L447.08 414.5 L447.05 413.9 L447.04 413.3 L447.04 412.7 L447.08 412.1 L447.13 411.5 L447.2 410.9 L447.29 410.3 L447.39 409.7 L447.5 409.1 L447.61 408.5 L447.78 407.9 L448.02 407.3 L448.32 406.7 L448.67 406.1 L449.05 405.5 L449.44 404.9 L449.84 404.3 L450.28 403.7 L450.76 403.1 L451.29 402.5 L451.85 401.9 L452.43 401.3 L453 400.7 L453.57 400.1 L454.14 399.5 L454.74 398.9 L455.34 398.3 L455.96 397.7 L456.59 397.1 L457.22 396.5 L457.85 395.9 L458.51 395.3 L459.19 394.7 L459.88 394.1 L460.51 393.5 L461.08 392.9 L461.62 392.3 L462.08 391.7 L462.55 391.1 L463.03 390.5 L463.47 389.9 L463.87 389.3 L464.18 388.7 L464.39 388.1 L464.56 387.5 L464.71 386.9 L464.82 386.3 L464.89 385.7 L464.89 385.1Z" fill="#bebebe" stroke="#000" stroke-width="1.05" stroke-linejoin="round"/>
<line x1="467.15" y1="385.1" x2="467.15" y2="467" stroke="#000" stroke-width="0.9"/>
<rect x="465.55" y="408.2" width="3.4" height="22.6" fill="#000"/>
<circle cx="467.85" cy="419.1" r="2.3" fill="#fff"/>
<path d="M521.38 379.3 L521.53 379.9 L521.7 380.5 L521.9 381.1 L522.11 381.7 L522.33 382.3 L522.57 382.9 L522.83 383.5 L523.1 384.1 L523.41 384.7 L523.74 385.3 L524.1 385.9 L524.47 386.5 L524.87 387.1 L525.28 387.7 L525.67 388.3 L526.01 388.9 L526.29 389.5 L526.58 390.1 L526.87 390.7 L527.16 391.3 L527.46 391.9 L527.76 392.5 L528.06 393.1 L528.43 393.7 L528.91 394.3 L529.39 394.9 L529.87 395.5 L530.34 396.1 L530.8 396.7 L531.24 397.3 L531.67 397.9 L532.11 398.5 L532.56 399.1 L533 399.7 L533.43 400.3 L533.86 400.9 L534.28 401.5 L534.69 402.1 L535.12 402.7 L535.56 403.3 L536.03 403.9 L536.48 404.5 L536.91 405.1 L537.28 405.7 L537.62 406.3 L537.95 406.9 L538.28 407.5 L538.59 408.1 L538.79 408.7 L538.95 409.3 L539.06 409.9 L539.11 410.5 L539.12 411.1 L539.11 411.7 L539.09 412.3 L539.05 412.9 L539 413.5 L538.94 414.1 L538.87 414.7 L538.78 415.3 L538.64 415.9 L538.43 416.5 L538.17 417.1 L537.87 417.7 L537.53 418.3 L537.17 418.9 L536.82 419.5 L536.45 420.1 L536.05 420.7 L535.62 421.3 L535.17 421.9 L534.71 422.5 L534.3 423.1 L533.91 423.7 L533.54 424.3 L533.17 424.9 L532.79 425.5 L532.41 426.1 L532.03 426.7 L531.65 427.3 L531.23 427.9 L530.79 428.5 L530.33 429.1 L529.87 429.7 L529.4 430.3 L528.93 430.9 L528.46 431.5 L528.01 432.1 L527.57 432.7 L527.16 433.3 L526.75 433.9 L526.34 434.5 L525.95 435.1 L525.57 435.7 L525.2 436.3 L524.86 436.9 L524.54 437.5 L524.26 438.1 L524 438.7 L523.75 439.3 L523.5 439.9 L523.27 440.5 L523.04 441.1 L522.83 441.7 L522.61 442.3 L522.4 442.9 L522.19 443.5 L521.99 444.1 L521.8 444.7 L521.62 445.3 L521.45 445.9 L521.3 446.5 L521.15 447.1 L521.01 447.7 L520.88 448.3 L520.75 448.9 L520.62 449.5 L520.5 450.1 L520.38 450.7 L520.27 451.3 L520.16 451.9 L520.06 452.5 L519.97 453.1 L519.88 453.7 L519.81 454.3 L519.75 454.9 L519.7 455.5 L519.66 456.1 L519.63 456.7 L519.6 457.3 L519.57 457.9 L519.53 458.5 L519.48 459.1 L519.44 459.7 L519.4 460.3 L519.36 460.9 L519.33 461.5 L519.3 462.1 L519.27 462.7 L519.25 463.3 L519.22 463.9 L519.2 464.5 L519.18 465.1 L519.16 465.7 L519.14 466.3 L519.12 466.9 L519.1 467.5 L519.09 468.1 L519.07 468.7 L519.06 469.3 L519.04 469.9 L519.03 470.5 L519.02 471.1 L519 471.7 L518.99 472.3 L518.98 472.9 L518.97 473.5 L518.96 474.1 L518.95 474.7 L518.94 475.3 L518.93 475.9 L518.92 476.5 L518.91 477.1 L518.9 477.7 L518.89 478.3 L518.89 478.9 L518.88 479.5 L518.87 480.1 L518.87 480.7 L518.86 481.3 L518.85 481.9 L518.85 482.5 L518.65 482.5 L518.65 481.9 L518.64 481.3 L518.63 480.7 L518.63 480.1 L518.62 479.5 L518.61 478.9 L518.61 478.3 L518.6 477.7 L518.59 477.1 L518.58 476.5 L518.57 475.9 L518.56 475.3 L518.55 474.7 L518.54 474.1 L518.53 473.5 L518.52 472.9 L518.51 472.3 L518.5 471.7 L518.48 471.1 L518.47 470.5 L518.46 469.9 L518.44 469.3 L518.43 468.7 L518.41 468.1 L518.4 467.5 L518.38 466.9 L518.36 466.3 L518.34 465.7 L518.32 465.1 L518.3 464.5 L518.28 463.9 L518.25 463.3 L518.23 462.7 L518.2 462.1 L518.17 461.5 L518.14 460.9 L518.1 460.3 L518.06 459.7 L518.02 459.1 L517.97 458.5 L517.93 457.9 L517.9 457.3 L517.87 456.7 L517.84 456.1 L517.8 455.5 L517.75 454.9 L517.69 454.3 L517.62 453.7 L517.53 453.1 L517.44 452.5 L517.34 451.9 L517.23 451.3 L517.12 450.7 L517 450.1 L516.88 449.5 L516.75 448.9 L516.62 448.3 L516.49 447.7 L516.35 447.1 L516.2 446.5 L516.05 445.9 L515.88 445.3 L515.7 444.7 L515.51 444.1 L515.31 443.5 L515.1 442.9 L514.89 442.3 L514.67 441.7 L514.46 441.1 L514.23 440.5 L514 439.9 L513.75 439.3 L513.5 438.7 L513.24 438.1 L512.96 437.5 L512.64 436.9 L512.3 436.3 L511.93 435.7 L511.55 435.1 L511.16 434.5 L510.75 433.9 L510.34 433.3 L509.93 432.7 L509.49 432.1 L509.04 431.5 L508.57 430.9 L508.1 430.3 L507.63 429.7 L507.17 429.1 L506.71 428.5 L506.27 427.9 L505.85 427.3 L505.47 426.7 L505.09 426.1 L504.71 425.5 L504.33 424.9 L503.96 424.3 L503.59 423.7 L503.2 423.1 L502.79 422.5 L502.33 421.9 L501.88 421.3 L501.45 420.7 L501.05 420.1 L500.68 419.5 L500.33 418.9 L499.97 418.3 L499.63 417.7 L499.33 417.1 L499.07 416.5 L498.86 415.9 L498.72 415.3 L498.63 414.7 L498.56 414.1 L498.5 413.5 L498.45 412.9 L498.41 412.3 L498.39 411.7 L498.38 411.1 L498.39 410.5 L498.44 409.9 L498.55 409.3 L498.71 408.7 L498.91 408.1 L499.22 407.5 L499.55 406.9 L499.88 406.3 L500.22 405.7 L500.59 405.1 L501.02 404.5 L501.47 403.9 L501.94 403.3 L502.38 402.7 L502.81 402.1 L503.22 401.5 L503.64 400.9 L504.07 400.3 L504.5 399.7 L504.94 399.1 L505.39 398.5 L505.83 397.9 L506.26 397.3 L506.7 396.7 L507.16 396.1 L507.63 395.5 L508.11 394.9 L508.59 394.3 L509.07 393.7 L509.44 393.1 L509.74 392.5 L510.04 391.9 L510.34 391.3 L510.63 390.7 L510.92 390.1 L511.21 389.5 L511.49 388.9 L511.83 388.3 L512.22 387.7 L512.63 387.1 L513.03 386.5 L513.4 385.9 L513.76 385.3 L514.09 384.7 L514.4 384.1 L514.67 383.5 L514.93 382.9 L515.17 382.3 L515.39 381.7 L515.6 381.1 L515.8 380.5 L515.97 379.9 L516.12 379.3Z" fill="#bebebe" stroke="#000" stroke-width="1.05" stroke-linejoin="round"/>
<line x1="518.65" y1="379.3" x2="518.65" y2="455" stroke="#000" stroke-width="0.9"/>
<rect x="517.05" y="402.25" width="3.4" height="21.45" fill="#000"/>
<circle cx="519.35" cy="412.9" r="2.3" fill="#fff"/>
<path d="M570.89 371.4 L570.91 372 L570.95 372.6 L571.01 373.2 L571.11 373.8 L571.21 374.4 L571.29 375 L571.38 375.6 L571.48 376.2 L571.64 376.8 L571.84 377.4 L572.08 378 L572.36 378.6 L572.64 379.2 L572.94 379.8 L573.26 380.4 L573.59 381 L573.96 381.6 L574.39 382.2 L574.89 382.8 L575.43 383.4 L576 384 L576.65 384.6 L577.31 385.2 L577.97 385.8 L578.61 386.4 L579.28 387 L579.98 387.6 L580.7 388.2 L581.43 388.8 L582.17 389.4 L582.89 390 L583.58 390.6 L584.24 391.2 L584.86 391.8 L585.49 392.4 L586.12 393 L586.75 393.6 L587.35 394.2 L587.91 394.8 L588.42 395.4 L588.86 396 L589.22 396.6 L589.52 397.2 L589.81 397.8 L590.09 398.4 L590.35 399 L590.58 399.6 L590.77 400.2 L590.92 400.8 L591.02 401.4 L591.05 402 L591.04 402.6 L591.02 403.2 L591 403.8 L590.96 404.4 L590.91 405 L590.86 405.6 L590.8 406.2 L590.74 406.8 L590.68 407.4 L590.61 408 L590.52 408.6 L590.41 409.2 L590.29 409.8 L590.16 410.4 L590.02 411 L589.87 411.6 L589.72 412.2 L589.57 412.8 L589.41 413.4 L589.23 414 L589.05 414.6 L588.85 415.2 L588.64 415.8 L588.42 416.4 L588.2 417 L587.96 417.6 L587.71 418.2 L587.44 418.8 L587.15 419.4 L586.85 420 L586.54 420.6 L586.21 421.2 L585.89 421.8 L585.57 422.4 L585.25 423 L584.98 423.6 L584.7 424.2 L584.43 424.8 L584.15 425.4 L583.87 426 L583.58 426.6 L583.3 427.2 L583.01 427.8 L582.72 428.4 L582.44 429 L582.15 429.6 L581.86 430.2 L581.57 430.8 L581.26 431.4 L580.89 432 L580.52 432.6 L580.15 433.2 L579.78 433.8 L579.42 434.4 L579.06 435 L578.71 435.6 L578.37 436.2 L578.05 436.8 L577.73 437.4 L577.41 438 L577.1 438.6 L576.8 439.2 L576.51 439.8 L576.22 440.4 L575.95 441 L575.7 441.6 L575.45 442.2 L575.21 442.8 L574.98 443.4 L574.76 444 L574.54 444.6 L574.32 445.2 L574.1 445.8 L573.89 446.4 L573.68 447 L573.48 447.6 L573.29 448.2 L573.11 448.8 L572.94 449.4 L572.78 450 L572.63 450.6 L572.5 451.2 L572.36 451.8 L572.23 452.4 L572.09 453 L571.97 453.6 L571.84 454.2 L571.73 454.8 L571.62 455.4 L571.53 456 L571.45 456.6 L571.38 457.2 L571.32 457.8 L571.27 458.4 L571.22 459 L571.15 459.6 L571.08 460.2 L571.01 460.8 L570.96 461.4 L570.91 462 L570.87 462.6 L570.83 463.2 L570.81 463.8 L570.78 464.4 L570.77 465 L570.76 465.6 L570.75 466.2 L570.74 466.8 L570.73 467.4 L570.72 468 L570.71 468.6 L570.71 469.2 L570.7 469.8 L570.7 470.4 L570.69 471 L570.69 471.6 L570.68 472.2 L570.68 472.8 L570.67 473.4 L570.67 474 L570.67 474.6 L570.66 475.2 L570.66 475.8 L570.65 476.4 L570.65 477 L570.65 477.6 L570.64 478.2 L570.64 478.8 L570.64 479.4 L570.63 480 L570.63 480.6 L570.62 481.2 L570.62 481.8 L570.61 482.4 L570.61 483 L570.6 483.6 L570.6 484.2 L570.59 484.8 L570.59 485.4 L570.58 486 L570.57 486.6 L570.57 487.2 L570.56 487.8 L570.56 488.4 L570.55 489 L570.55 489.6 L570.54 490.2 L570.53 490.8 L570.53 491.4 L570.52 492 L570.52 492.6 L570.51 493.2 L570.51 493.8 L570.5 494.4 L570.5 495 L570.5 495.1 L570.3 495.1 L570.3 495 L570.3 494.4 L570.29 493.8 L570.29 493.2 L570.28 492.6 L570.28 492 L570.27 491.4 L570.27 490.8 L570.26 490.2 L570.25 489.6 L570.25 489 L570.24 488.4 L570.24 487.8 L570.23 487.2 L570.23 486.6 L570.22 486 L570.21 485.4 L570.21 484.8 L570.2 484.2 L570.2 483.6 L570.19 483 L570.19 482.4 L570.18 481.8 L570.18 481.2 L570.17 480.6 L570.17 480 L570.16 479.4 L570.16 478.8 L570.16 478.2 L570.15 477.6 L570.15 477 L570.15 476.4 L570.14 475.8 L570.14 475.2 L570.13 474.6 L570.13 474 L570.13 473.4 L570.12 472.8 L570.12 472.2 L570.11 471.6 L570.11 471 L570.1 470.4 L570.1 469.8 L570.09 469.2 L570.09 468.6 L570.08 468 L570.07 467.4 L570.06 466.8 L570.05 466.2 L570.04 465.6 L570.03 465 L570.02 464.4 L569.99 463.8 L569.97 463.2 L569.93 462.6 L569.89 462 L569.84 461.4 L569.79 460.8 L569.72 460.2 L569.65 459.6 L569.58 459 L569.53 458.4 L569.48 457.8 L569.42 457.2 L569.35 456.6 L569.27 456 L569.18 455.4 L569.07 454.8 L568.96 454.2 L568.83 453.6 L568.71 453 L568.57 452.4 L568.44 451.8 L568.3 451.2 L568.17 450.6 L568.02 450 L567.86 449.4 L567.69 448.8 L567.51 448.2 L567.32 447.6 L567.12 447 L566.91 446.4 L566.7 445.8 L566.48 445.2 L566.26 444.6 L566.04 444 L565.82 443.4 L565.59 442.8 L565.35 442.2 L565.1 441.6 L564.85 441 L564.58 440.4 L564.29 439.8 L564 439.2 L563.7 438.6 L563.39 438 L563.07 437.4 L562.75 436.8 L562.43 436.2 L562.09 435.6 L561.74 435 L561.38 434.4 L561.02 433.8 L560.65 433.2 L560.28 432.6 L559.91 432 L559.54 431.4 L559.23 430.8 L558.94 430.2 L558.65 429.6 L558.36 429 L558.08 428.4 L557.79 427.8 L557.5 427.2 L557.22 426.6 L556.93 426 L556.65 425.4 L556.37 424.8 L556.1 424.2 L555.82 423.6 L555.55 423 L555.23 422.4 L554.91 421.8 L554.59 421.2 L554.26 420.6 L553.95 420 L553.65 419.4 L553.36 418.8 L553.09 418.2 L552.84 417.6 L552.6 417 L552.38 416.4 L552.16 415.8 L551.95 415.2 L551.75 414.6 L551.57 414 L551.39 413.4 L551.23 412.8 L551.08 412.2 L550.93 411.6 L550.78 411 L550.64 410.4 L550.51 409.8 L550.39 409.2 L550.28 408.6 L550.19 408 L550.12 407.4 L550.06 406.8 L550 406.2 L549.94 405.6 L549.89 405 L549.84 404.4 L549.8 403.8 L549.78 403.2 L549.76 402.6 L549.75 402 L549.78 401.4 L549.88 400.8 L550.03 400.2 L550.22 399.6 L550.45 399 L550.71 398.4 L550.99 397.8 L551.28 397.2 L551.58 396.6 L551.94 396 L552.38 395.4 L552.89 394.8 L553.45 394.2 L554.05 393.6 L554.68 393 L555.31 392.4 L555.94 391.8 L556.56 391.2 L557.22 390.6 L557.91 390 L558.63 389.4 L559.37 388.8 L560.1 388.2 L560.82 387.6 L561.52 387 L562.19 386.4 L562.83 385.8 L563.49 385.2 L564.15 384.6 L564.8 384 L565.37 383.4 L565.91 382.8 L566.41 382.2 L566.84 381.6 L567.21 381 L567.54 380.4 L567.86 379.8 L568.16 379.2 L568.44 378.6 L568.72 378 L568.96 377.4 L569.16 376.8 L569.32 376.2 L569.42 375.6 L569.51 375 L569.59 374.4 L569.69 373.8 L569.79 373.2 L569.85 372.6 L569.89 372 L569.9 371.4Z" fill="#bebebe" stroke="#000" stroke-width="1.05" stroke-linejoin="round"/>
<line x1="570.3" y1="371.4" x2="570.3" y2="456" stroke="#000" stroke-width="0.9"/>
<rect x="568.7" y="401.1" width="3.4" height="24.5" fill="#000"/>
<circle cx="571" cy="412.5" r="2.3" fill="#fff"/>
<path d="M624.99 380.35 L625.01 380.95 L625.06 381.55 L625.13 382.15 L625.21 382.75 L625.31 383.35 L625.41 383.95 L625.52 384.55 L625.65 385.15 L625.8 385.75 L625.99 386.35 L626.19 386.95 L626.42 387.55 L626.66 388.15 L626.93 388.75 L627.21 389.35 L627.54 389.95 L627.96 390.55 L628.42 391.15 L628.91 391.75 L629.41 392.35 L629.91 392.95 L630.41 393.55 L630.9 394.15 L631.41 394.75 L631.92 395.35 L632.45 395.95 L632.98 396.55 L633.51 397.15 L634.04 397.75 L634.57 398.35 L635.12 398.95 L635.68 399.55 L636.25 400.15 L636.8 400.75 L637.34 401.35 L637.85 401.95 L638.31 402.55 L638.75 403.15 L639.19 403.75 L639.61 404.35 L640 404.95 L640.38 405.55 L640.71 406.15 L641 406.75 L641.25 407.35 L641.49 407.95 L641.73 408.55 L641.95 409.15 L642.15 409.75 L642.3 410.35 L642.41 410.95 L642.45 411.55 L642.44 412.15 L642.42 412.75 L642.39 413.35 L642.34 413.95 L642.29 414.55 L642.23 415.15 L642.12 415.75 L641.95 416.35 L641.73 416.95 L641.48 417.55 L641.2 418.15 L640.91 418.75 L640.62 419.35 L640.33 419.95 L639.99 420.55 L639.62 421.15 L639.24 421.75 L638.83 422.35 L638.43 422.95 L638.04 423.55 L637.66 424.15 L637.28 424.75 L636.91 425.35 L636.54 425.95 L636.16 426.55 L635.79 427.15 L635.42 427.75 L635.04 428.35 L634.67 428.95 L634.29 429.55 L633.9 430.15 L633.52 430.75 L633.14 431.35 L632.77 431.95 L632.41 432.55 L632.07 433.15 L631.73 433.75 L631.4 434.35 L631.08 434.95 L630.77 435.55 L630.47 436.15 L630.18 436.75 L629.91 437.35 L629.66 437.95 L629.42 438.55 L629.2 439.15 L628.98 439.75 L628.77 440.35 L628.56 440.95 L628.35 441.55 L628.15 442.15 L627.94 442.75 L627.72 443.35 L627.51 443.95 L627.32 444.55 L627.14 445.15 L626.98 445.75 L626.84 446.35 L626.73 446.95 L626.64 447.55 L626.63 447.6 L616.97 447.6 L616.96 447.55 L616.87 446.95 L616.76 446.35 L616.62 445.75 L616.46 445.15 L616.28 444.55 L616.09 443.95 L615.88 443.35 L615.66 442.75 L615.45 442.15 L615.25 441.55 L615.04 440.95 L614.83 440.35 L614.62 439.75 L614.4 439.15 L614.18 438.55 L613.94 437.95 L613.69 437.35 L613.42 436.75 L613.13 436.15 L612.83 435.55 L612.52 434.95 L612.2 434.35 L611.87 433.75 L611.53 433.15 L611.19 432.55 L610.83 431.95 L610.46 431.35 L610.08 430.75 L609.7 430.15 L609.31 429.55 L608.93 428.95 L608.56 428.35 L608.18 427.75 L607.81 427.15 L607.44 426.55 L607.06 425.95 L606.69 425.35 L606.32 424.75 L605.94 424.15 L605.56 423.55 L605.17 422.95 L604.77 422.35 L604.36 421.75 L603.98 421.15 L603.61 420.55 L603.27 419.95 L602.98 419.35 L602.69 418.75 L602.4 418.15 L602.12 417.55 L601.87 416.95 L601.65 416.35 L601.48 415.75 L601.37 415.15 L601.31 414.55 L601.26 413.95 L601.21 413.35 L601.18 412.75 L601.16 412.15 L601.15 411.55 L601.19 410.95 L601.3 410.35 L601.45 409.75 L601.65 409.15 L601.87 408.55 L602.11 407.95 L602.35 407.35 L602.6 406.75 L602.89 406.15 L603.22 405.55 L603.6 404.95 L603.99 404.35 L604.41 403.75 L604.85 403.15 L605.29 402.55 L605.75 401.95 L606.26 401.35 L606.8 400.75 L607.35 400.15 L607.92 399.55 L608.48 398.95 L609.03 398.35 L609.56 397.75 L610.09 397.15 L610.62 396.55 L611.15 395.95 L611.68 395.35 L612.19 394.75 L612.7 394.15 L613.19 393.55 L613.69 392.95 L614.19 392.35 L614.69 391.75 L615.18 391.15 L615.64 390.55 L616.06 389.95 L616.39 389.35 L616.67 388.75 L616.94 388.15 L617.18 387.55 L617.41 386.95 L617.61 386.35 L617.8 385.75 L617.95 385.15 L618.08 384.55 L618.19 383.95 L618.29 383.35 L618.39 382.75 L618.47 382.15 L618.54 381.55 L618.59 380.95 L618.61 380.35Z" fill="#bebebe" stroke="#000" stroke-width="1.05" stroke-linejoin="round"/>
<line x1="621.7" y1="380.35" x2="621.7" y2="447.6" stroke="#000" stroke-width="0.9"/>
<rect x="620.1" y="407.1" width="3.4" height="18" fill="#000"/>
<circle cx="622.4" cy="413.1" r="2.3" fill="#fff"/>
<rect x="405.45" y="324.85" width="278.25" height="180.65" fill="none" stroke="#000" stroke-width="1.1"/>
<line x1="400.45" y1="331.4" x2="405.45" y2="331.4" stroke="#000" stroke-width="1.1"/>
<text x="397.2" y="335.39" font-size="8.2" text-anchor="start" fill="#000" textLength="7.66" lengthAdjust="spacingAndGlyphs" transform="rotate(-90 397.2 335.39)">14</text>
<line x1="400.45" y1="362.2" x2="405.45" y2="362.2" stroke="#000" stroke-width="1.1"/>
<text x="397.2" y="366.12" font-size="8.2" text-anchor="start" fill="#000" textLength="7.66" lengthAdjust="spacingAndGlyphs" transform="rotate(-90 397.2 366.12)">12</text>
<line x1="400.45" y1="393.4" x2="405.45" y2="393.4" stroke="#000" stroke-width="1.1"/>
<text x="397.2" y="397.36" font-size="8.2" text-anchor="start" fill="#000" textLength="7.66" lengthAdjust="spacingAndGlyphs" transform="rotate(-90 397.2 397.36)">10</text>
<line x1="400.45" y1="424" x2="405.45" y2="424" stroke="#000" stroke-width="1.1"/>
<text x="397.2" y="425.92" font-size="8.2" text-anchor="start" fill="#000" textLength="3.83" lengthAdjust="spacingAndGlyphs" transform="rotate(-90 397.2 425.92)">8</text>
<line x1="400.45" y1="455.3" x2="405.45" y2="455.3" stroke="#000" stroke-width="1.1"/>
<text x="397.2" y="457.24" font-size="8.2" text-anchor="start" fill="#000" textLength="3.83" lengthAdjust="spacingAndGlyphs" transform="rotate(-90 397.2 457.24)">6</text>
<line x1="400.45" y1="486.5" x2="405.45" y2="486.5" stroke="#000" stroke-width="1.1"/>
<text x="397.2" y="488.39" font-size="8.2" text-anchor="start" fill="#000" textLength="3.83" lengthAdjust="spacingAndGlyphs" transform="rotate(-90 397.2 488.39)">4</text>
<line x1="415.7" y1="505.5" x2="415.7" y2="510.5" stroke="#000" stroke-width="1.1"/>
<line x1="467.3" y1="505.5" x2="467.3" y2="510.5" stroke="#000" stroke-width="1.1"/>
<line x1="518.7" y1="505.5" x2="518.7" y2="510.5" stroke="#000" stroke-width="1.1"/>
<line x1="570.25" y1="505.5" x2="570.25" y2="510.5" stroke="#000" stroke-width="1.1"/>
<line x1="621.7" y1="505.5" x2="621.7" y2="510.5" stroke="#000" stroke-width="1.1"/>
<text x="450.77" y="522.8" font-size="9.4" text-anchor="start" fill="#000" textLength="28.48" lengthAdjust="spacingAndGlyphs">Stage 1</text>
<text x="501.77" y="522.8" font-size="9.4" text-anchor="start" fill="#000" textLength="28.49" lengthAdjust="spacingAndGlyphs">Stage 2</text>
<text x="553.98" y="522.8" font-size="9.4" text-anchor="start" fill="#000" textLength="28.44" lengthAdjust="spacingAndGlyphs">Stage 3</text>
<text x="606.68" y="522.8" font-size="9.4" text-anchor="start" fill="#000" textLength="28.31" lengthAdjust="spacingAndGlyphs">Stage 4</text>
<text x="381.3" y="481.73" font-size="9.1" text-anchor="start" fill="#000" textLength="138.31" lengthAdjust="spacingAndGlyphs" transform="rotate(-90 381.3 481.73)">Relative BUB1B mRNA expression</text>
<text x="527.28" y="312.1" font-size="11.9" text-anchor="start" fill="#000" font-weight="bold" textLength="39.8" lengthAdjust="spacingAndGlyphs">BUB1B</text>
<text x="622.27" y="342.2" font-size="8.4" text-anchor="start" fill="#000" textLength="50.96" lengthAdjust="spacingAndGlyphs">F value:7.3034</text>
<text x="625.41" y="357.2" font-size="8.4" text-anchor="start" fill="#000" textLength="44.34" lengthAdjust="spacingAndGlyphs">Pr(&gt;F):0.007</text>
<text transform="translate(359.71 302.4) scale(0.96 1)" font-size="21.6" font-weight="bold" fill="#000">D</text>
</g>
<g id="panel-E">
<path d="M294.84 653.3 L294.99 653.9 L295.16 654.5 L295.34 655.1 L295.54 655.7 L295.76 656.3 L295.99 656.9 L296.23 657.5 L296.48 658.1 L296.75 658.7 L297.05 659.3 L297.37 659.9 L297.75 660.5 L298.14 661.1 L298.54 661.7 L298.95 662.3 L299.36 662.9 L299.77 663.5 L300.19 664.1 L300.64 664.7 L301.1 665.3 L301.57 665.9 L302.04 666.5 L302.51 667.1 L302.96 667.7 L303.39 668.3 L303.8 668.9 L304.21 669.5 L304.61 670.1 L305.01 670.7 L305.39 671.3 L305.77 671.9 L306.13 672.5 L306.47 673.1 L306.8 673.7 L307.1 674.3 L307.4 674.9 L307.69 675.5 L307.97 676.1 L308.24 676.7 L308.49 677.3 L308.73 677.9 L308.95 678.5 L309.15 679.1 L309.34 679.7 L309.51 680.3 L309.67 680.9 L309.83 681.5 L309.98 682.1 L310.12 682.7 L310.26 683.3 L310.39 683.9 L310.52 684.5 L310.65 685.1 L310.78 685.7 L310.9 686.3 L311.01 686.9 L311.13 687.5 L311.24 688.1 L311.34 688.7 L311.45 689.3 L311.55 689.9 L311.65 690.5 L311.76 691.1 L311.86 691.7 L311.95 692.3 L312.05 692.9 L312.13 693.5 L312.21 694.1 L312.28 694.7 L312.34 695.3 L312.4 695.9 L312.47 696.5 L312.52 697.1 L312.56 697.7 L312.59 698.3 L312.6 698.9 L312.56 699.5 L312.48 700.1 L312.38 700.7 L312.25 701.3 L312.09 701.9 L311.94 702.5 L311.77 703.1 L311.55 703.7 L311.29 704.3 L310.98 704.9 L310.65 705.5 L310.3 706.1 L309.92 706.7 L309.54 707.3 L309.16 707.9 L308.77 708.5 L308.34 709.1 L307.89 709.7 L307.41 710.3 L306.92 710.9 L306.43 711.5 L305.93 712.1 L305.45 712.7 L304.99 713.3 L304.53 713.9 L304.08 714.5 L303.66 715.1 L303.25 715.7 L302.85 716.3 L302.45 716.9 L302.07 717.5 L301.71 718.1 L301.37 718.7 L301.03 719.3 L300.7 719.9 L300.38 720.5 L300.07 721.1 L299.78 721.7 L299.5 722.3 L299.19 722.9 L298.87 723.5 L298.58 724.1 L298.3 724.7 L298.03 725.3 L297.78 725.9 L297.54 726.5 L297.31 727.1 L297.1 727.7 L296.9 728.3 L296.71 728.9 L296.52 729.5 L296.34 730.1 L296.16 730.7 L295.97 731.3 L295.79 731.9 L295.61 732.5 L295.45 733.1 L295.29 733.7 L295.15 734.3 L295.02 734.9 L294.89 735.5 L294.77 736.1 L294.66 736.7 L294.55 737.3 L294.44 737.9 L294.33 738.5 L294.24 739.1 L294.17 739.7 L294.1 740.3 L294.04 740.9 L293.97 741.5 L293.91 742.1 L293.84 742.7 L293.83 742.8 L289.47 742.8 L289.46 742.7 L289.39 742.1 L289.33 741.5 L289.26 740.9 L289.2 740.3 L289.13 739.7 L289.06 739.1 L288.97 738.5 L288.86 737.9 L288.75 737.3 L288.64 736.7 L288.53 736.1 L288.41 735.5 L288.28 734.9 L288.15 734.3 L288.01 733.7 L287.85 733.1 L287.69 732.5 L287.51 731.9 L287.33 731.3 L287.14 730.7 L286.96 730.1 L286.78 729.5 L286.59 728.9 L286.4 728.3 L286.2 727.7 L285.99 727.1 L285.76 726.5 L285.52 725.9 L285.27 725.3 L285 724.7 L284.72 724.1 L284.43 723.5 L284.11 722.9 L283.8 722.3 L283.52 721.7 L283.23 721.1 L282.92 720.5 L282.6 719.9 L282.27 719.3 L281.93 718.7 L281.59 718.1 L281.23 717.5 L280.85 716.9 L280.45 716.3 L280.05 715.7 L279.64 715.1 L279.22 714.5 L278.77 713.9 L278.31 713.3 L277.85 712.7 L277.37 712.1 L276.87 711.5 L276.38 710.9 L275.89 710.3 L275.41 709.7 L274.96 709.1 L274.53 708.5 L274.14 707.9 L273.76 707.3 L273.38 706.7 L273 706.1 L272.65 705.5 L272.32 704.9 L272.01 704.3 L271.75 703.7 L271.53 703.1 L271.36 702.5 L271.21 701.9 L271.05 701.3 L270.92 700.7 L270.82 700.1 L270.74 699.5 L270.7 698.9 L270.71 698.3 L270.74 697.7 L270.78 697.1 L270.83 696.5 L270.9 695.9 L270.96 695.3 L271.02 694.7 L271.09 694.1 L271.17 693.5 L271.25 692.9 L271.35 692.3 L271.44 691.7 L271.54 691.1 L271.65 690.5 L271.75 689.9 L271.85 689.3 L271.96 688.7 L272.06 688.1 L272.17 687.5 L272.29 686.9 L272.4 686.3 L272.52 685.7 L272.65 685.1 L272.78 684.5 L272.91 683.9 L273.04 683.3 L273.18 682.7 L273.32 682.1 L273.47 681.5 L273.63 680.9 L273.79 680.3 L273.96 679.7 L274.15 679.1 L274.35 678.5 L274.57 677.9 L274.81 677.3 L275.06 676.7 L275.33 676.1 L275.61 675.5 L275.9 674.9 L276.2 674.3 L276.5 673.7 L276.83 673.1 L277.17 672.5 L277.53 671.9 L277.91 671.3 L278.29 670.7 L278.69 670.1 L279.09 669.5 L279.5 668.9 L279.91 668.3 L280.34 667.7 L280.79 667.1 L281.26 666.5 L281.73 665.9 L282.2 665.3 L282.66 664.7 L283.11 664.1 L283.53 663.5 L283.94 662.9 L284.35 662.3 L284.76 661.7 L285.16 661.1 L285.55 660.5 L285.93 659.9 L286.25 659.3 L286.55 658.7 L286.82 658.1 L287.07 657.5 L287.31 656.9 L287.54 656.3 L287.76 655.7 L287.96 655.1 L288.14 654.5 L288.31 653.9 L288.46 653.3Z" fill="#bebebe" stroke="#000" stroke-width="1.05" stroke-linejoin="round"/>
<line x1="291.55" y1="653.3" x2="291.55" y2="742.8" stroke="#000" stroke-width="0.9"/>
<rect x="289.95" y="679.1" width="3.4" height="27.6" fill="#000"/>
<circle cx="292.25" cy="694.35" r="2.3" fill="#fff"/>
<path d="M343.48 633.1 L343.48 633.7 L343.49 634.3 L343.51 634.9 L343.53 635.5 L343.56 636.1 L343.6 636.7 L343.64 637.3 L343.69 637.9 L343.74 638.5 L343.8 639.1 L343.86 639.7 L343.89 640.3 L343.93 640.9 L343.98 641.5 L344.05 642.1 L344.13 642.7 L344.21 643.3 L344.31 643.9 L344.42 644.5 L344.55 645.1 L344.72 645.7 L344.92 646.3 L345.13 646.9 L345.35 647.5 L345.58 648.1 L345.81 648.7 L346.03 649.3 L346.24 649.9 L346.41 650.5 L346.59 651.1 L346.77 651.7 L346.96 652.3 L347.15 652.9 L347.36 653.5 L347.56 654.1 L347.78 654.7 L348.02 655.3 L348.27 655.9 L348.54 656.5 L348.82 657.1 L349.11 657.7 L349.41 658.3 L349.7 658.9 L349.99 659.5 L350.4 660.1 L350.8 660.7 L351.21 661.3 L351.61 661.9 L352.03 662.5 L352.45 663.1 L352.88 663.7 L353.33 664.3 L353.8 664.9 L354.28 665.5 L354.77 666.1 L355.27 666.7 L355.77 667.3 L356.26 667.9 L356.75 668.5 L357.23 669.1 L357.74 669.7 L358.26 670.3 L358.79 670.9 L359.3 671.5 L359.8 672.1 L360.27 672.7 L360.71 673.3 L361.1 673.9 L361.45 674.5 L361.78 675.1 L362.1 675.7 L362.4 676.3 L362.68 676.9 L362.92 677.5 L363.13 678.1 L363.3 678.7 L363.45 679.3 L363.59 679.9 L363.71 680.5 L363.82 681.1 L363.89 681.7 L363.93 682.3 L363.94 682.9 L363.92 683.5 L363.88 684.1 L363.82 684.7 L363.76 685.3 L363.68 685.9 L363.59 686.5 L363.5 687.1 L363.38 687.7 L363.21 688.3 L363 688.9 L362.71 689.5 L362.41 690.1 L362.11 690.7 L361.8 691.3 L361.49 691.9 L361.17 692.5 L360.83 693.1 L360.48 693.7 L360.13 694.3 L359.76 694.9 L359.39 695.5 L359.03 696.1 L358.66 696.7 L358.3 697.3 L357.93 697.9 L357.61 698.5 L357.31 699.1 L357.01 699.7 L356.7 700.3 L356.4 700.9 L356.09 701.5 L355.78 702.1 L355.47 702.7 L355.15 703.3 L354.83 703.9 L354.52 704.5 L354.2 705.1 L353.88 705.7 L353.57 706.3 L353.19 706.9 L352.8 707.5 L352.42 708.1 L352.04 708.7 L351.67 709.3 L351.29 709.9 L350.93 710.5 L350.56 711.1 L350.2 711.7 L349.83 712.3 L349.46 712.9 L349.1 713.5 L348.74 714.1 L348.44 714.7 L348.17 715.3 L347.92 715.9 L347.68 716.5 L347.45 717.1 L347.23 717.7 L347.02 718.3 L346.82 718.9 L346.63 719.5 L346.45 720.1 L346.29 720.7 L346.14 721.3 L345.99 721.9 L345.85 722.5 L345.73 723.1 L345.61 723.7 L345.5 724.3 L345.39 724.9 L345.29 725.5 L345.2 726.1 L345.11 726.7 L345.02 727.3 L344.93 727.9 L344.84 728.5 L344.76 729.1 L344.69 729.7 L344.63 730.3 L344.56 730.9 L344.49 731.5 L344.42 732.1 L344.36 732.7 L344.3 733.3 L344.24 733.9 L344.18 734.5 L344.12 735.1 L344.07 735.7 L344.01 736.3 L343.95 736.9 L343.89 737.5 L343.82 738.1 L343.73 738.7 L343.65 739.3 L343.57 739.9 L343.51 740.5 L343.45 741.1 L343.4 741.7 L343.35 742.3 L343.32 742.9 L343.28 743.5 L343.25 744.1 L343.22 744.7 L343.2 745.3 L343.18 745.9 L343.16 746.5 L343.15 746.9 L342.95 746.9 L342.94 746.5 L342.92 745.9 L342.9 745.3 L342.88 744.7 L342.85 744.1 L342.82 743.5 L342.78 742.9 L342.75 742.3 L342.7 741.7 L342.65 741.1 L342.59 740.5 L342.53 739.9 L342.45 739.3 L342.37 738.7 L342.28 738.1 L342.21 737.5 L342.15 736.9 L342.09 736.3 L342.03 735.7 L341.98 735.1 L341.92 734.5 L341.86 733.9 L341.8 733.3 L341.74 732.7 L341.68 732.1 L341.61 731.5 L341.54 730.9 L341.47 730.3 L341.41 729.7 L341.34 729.1 L341.26 728.5 L341.17 727.9 L341.08 727.3 L340.99 726.7 L340.9 726.1 L340.81 725.5 L340.71 724.9 L340.6 724.3 L340.49 723.7 L340.37 723.1 L340.25 722.5 L340.11 721.9 L339.96 721.3 L339.81 720.7 L339.65 720.1 L339.47 719.5 L339.28 718.9 L339.08 718.3 L338.87 717.7 L338.65 717.1 L338.42 716.5 L338.18 715.9 L337.93 715.3 L337.66 714.7 L337.36 714.1 L337 713.5 L336.64 712.9 L336.27 712.3 L335.9 711.7 L335.54 711.1 L335.17 710.5 L334.81 709.9 L334.43 709.3 L334.06 708.7 L333.68 708.1 L333.3 707.5 L332.91 706.9 L332.53 706.3 L332.22 705.7 L331.9 705.1 L331.58 704.5 L331.27 703.9 L330.95 703.3 L330.63 702.7 L330.32 702.1 L330.01 701.5 L329.7 700.9 L329.4 700.3 L329.09 699.7 L328.79 699.1 L328.49 698.5 L328.17 697.9 L327.8 697.3 L327.44 696.7 L327.07 696.1 L326.71 695.5 L326.34 694.9 L325.97 694.3 L325.62 693.7 L325.27 693.1 L324.93 692.5 L324.61 691.9 L324.3 691.3 L323.99 690.7 L323.69 690.1 L323.39 689.5 L323.1 688.9 L322.89 688.3 L322.72 687.7 L322.6 687.1 L322.51 686.5 L322.42 685.9 L322.34 685.3 L322.28 684.7 L322.22 684.1 L322.18 683.5 L322.16 682.9 L322.17 682.3 L322.21 681.7 L322.28 681.1 L322.39 680.5 L322.51 679.9 L322.65 679.3 L322.8 678.7 L322.97 678.1 L323.18 677.5 L323.42 676.9 L323.7 676.3 L324 675.7 L324.32 675.1 L324.65 674.5 L325 673.9 L325.39 673.3 L325.83 672.7 L326.3 672.1 L326.8 671.5 L327.31 670.9 L327.84 670.3 L328.36 669.7 L328.87 669.1 L329.35 668.5 L329.84 667.9 L330.33 667.3 L330.83 666.7 L331.33 666.1 L331.82 665.5 L332.3 664.9 L332.77 664.3 L333.22 663.7 L333.65 663.1 L334.07 662.5 L334.49 661.9 L334.89 661.3 L335.3 660.7 L335.7 660.1 L336.11 659.5 L336.4 658.9 L336.69 658.3 L336.99 657.7 L337.28 657.1 L337.56 656.5 L337.83 655.9 L338.08 655.3 L338.32 654.7 L338.54 654.1 L338.74 653.5 L338.95 652.9 L339.14 652.3 L339.33 651.7 L339.51 651.1 L339.69 650.5 L339.86 649.9 L340.07 649.3 L340.29 648.7 L340.52 648.1 L340.75 647.5 L340.97 646.9 L341.18 646.3 L341.38 645.7 L341.55 645.1 L341.68 644.5 L341.79 643.9 L341.89 643.3 L341.97 642.7 L342.05 642.1 L342.12 641.5 L342.17 640.9 L342.21 640.3 L342.24 639.7 L342.3 639.1 L342.36 638.5 L342.41 637.9 L342.46 637.3 L342.5 636.7 L342.54 636.1 L342.57 635.5 L342.59 634.9 L342.61 634.3 L342.62 633.7 L342.62 633.1Z" fill="#bebebe" stroke="#000" stroke-width="1.05" stroke-linejoin="round"/>
<line x1="342.95" y1="633.1" x2="342.95" y2="728" stroke="#000" stroke-width="0.9"/>
<rect x="341.35" y="674.2" width="3.4" height="23.6" fill="#000"/>
<circle cx="343.65" cy="685.6" r="2.3" fill="#fff"/>
<path d="M395.6 645.25 L395.61 645.85 L395.66 646.45 L395.72 647.05 L395.81 647.65 L395.92 648.25 L396.04 648.85 L396.18 649.45 L396.33 650.05 L396.49 650.65 L396.75 651.25 L397.03 651.85 L397.15 652.45 L397.33 653.05 L397.55 653.65 L397.8 654.25 L398.05 654.85 L398.3 655.45 L398.52 656.05 L398.82 656.65 L399.39 657.25 L399.99 657.85 L400.62 658.45 L401.28 659.05 L401.92 659.65 L402.52 660.25 L403.07 660.85 L403.56 661.45 L404.23 662.05 L404.91 662.65 L405.57 663.25 L406.21 663.85 L406.83 664.45 L407.43 665.05 L408 665.65 L408.56 666.25 L409.05 666.85 L409.53 667.45 L410 668.05 L410.45 668.65 L410.88 669.25 L411.29 669.85 L411.69 670.45 L412.05 671.05 L412.34 671.65 L412.6 672.25 L412.84 672.85 L413.08 673.45 L413.3 674.05 L413.51 674.65 L413.71 675.25 L413.9 675.85 L414.07 676.45 L414.23 677.05 L414.39 677.65 L414.55 678.25 L414.71 678.85 L414.86 679.45 L414.99 680.05 L415.11 680.65 L415.21 681.25 L415.27 681.85 L415.32 682.45 L415.34 683.05 L415.36 683.65 L415.36 684.25 L415.36 684.85 L415.34 685.45 L415.32 686.05 L415.29 686.65 L415.26 687.25 L415.21 687.85 L415.11 688.45 L414.99 689.05 L414.83 689.65 L414.65 690.25 L414.44 690.85 L414.16 691.45 L413.88 692.05 L413.6 692.65 L413.28 693.25 L412.94 693.85 L412.57 694.45 L412.18 695.05 L411.77 695.65 L411.35 696.25 L410.92 696.85 L410.49 697.45 L410.06 698.05 L409.6 698.65 L409.12 699.25 L408.62 699.85 L408.12 700.45 L407.66 701.05 L407.2 701.65 L406.76 702.25 L406.33 702.85 L405.93 703.45 L405.52 704.05 L405.11 704.65 L404.71 705.25 L404.32 705.85 L403.94 706.45 L403.57 707.05 L403.23 707.65 L402.9 708.25 L402.59 708.85 L402.29 709.45 L401.99 710.05 L401.68 710.65 L401.38 711.25 L401.09 711.85 L400.82 712.45 L400.56 713.05 L400.32 713.65 L400.1 714.25 L399.9 714.85 L399.7 715.45 L399.51 716.05 L399.33 716.65 L399.15 717.25 L398.98 717.85 L398.81 718.45 L398.64 719.05 L398.46 719.65 L398.29 720.25 L398.13 720.85 L397.96 721.45 L397.81 722.05 L397.66 722.65 L397.53 723.25 L397.41 723.85 L397.31 724.45 L397.22 725.05 L397.13 725.65 L397.05 726.25 L396.97 726.85 L396.9 727.45 L396.83 728.05 L396.76 728.65 L396.7 729.25 L396.63 729.85 L396.56 730.45 L396.5 731.05 L396.44 731.65 L396.38 732.25 L396.32 732.85 L396.27 733.45 L396.21 734.05 L396.16 734.65 L396.12 735.25 L396.07 735.85 L396.03 736.45 L395.99 737.05 L395.95 737.65 L395.91 738.25 L395.88 738.85 L395.84 739.45 L395.81 740.05 L395.77 740.65 L395.74 741.25 L395.71 741.85 L395.68 742.45 L395.65 743.05 L395.62 743.65 L395.59 744.25 L395.56 744.85 L395.54 745.45 L395.51 746.05 L395.47 746.65 L395.42 747.25 L395.38 747.85 L395.34 748.45 L395.3 749.05 L395.27 749.65 L395.24 750.25 L395.22 750.85 L395.19 751.45 L395.17 752.05 L395.15 752.65 L395.12 753.25 L395.1 753.85 L395.08 754.45 L395.07 755.05 L395.05 755.65 L395.03 756.25 L395.02 756.85 L395 757.45 L394.99 758.05 L394.98 758.65 L394.97 759.25 L394.96 759.85 L394.95 760.45 L394.94 761.05 L394.93 761.65 L394.92 762.25 L394.91 762.85 L394.9 763.45 L394.89 764.05 L394.88 764.65 L394.88 765.25 L394.87 765.85 L394.86 766.45 L394.86 767.05 L394.85 767.65 L394.84 768.25 L394.84 768.85 L394.83 769.45 L394.83 770.05 L394.82 770.65 L394.82 771.25 L394.81 771.85 L394.81 772.45 L394.81 773.05 L394.8 773.65 L394.8 774.25 L394.8 774.85 L394.8 775.45 L394.8 775.6 L394.6 775.6 L394.6 775.45 L394.6 774.85 L394.6 774.25 L394.6 773.65 L394.59 773.05 L394.59 772.45 L394.59 771.85 L394.58 771.25 L394.58 770.65 L394.57 770.05 L394.57 769.45 L394.56 768.85 L394.56 768.25 L394.55 767.65 L394.54 767.05 L394.54 766.45 L394.53 765.85 L394.52 765.25 L394.52 764.65 L394.51 764.05 L394.5 763.45 L394.49 762.85 L394.48 762.25 L394.47 761.65 L394.46 761.05 L394.45 760.45 L394.44 759.85 L394.43 759.25 L394.42 758.65 L394.41 758.05 L394.4 757.45 L394.38 756.85 L394.37 756.25 L394.35 755.65 L394.33 755.05 L394.32 754.45 L394.3 753.85 L394.28 753.25 L394.25 752.65 L394.23 752.05 L394.21 751.45 L394.18 750.85 L394.16 750.25 L394.13 749.65 L394.1 749.05 L394.06 748.45 L394.02 747.85 L393.98 747.25 L393.93 746.65 L393.89 746.05 L393.86 745.45 L393.84 744.85 L393.81 744.25 L393.78 743.65 L393.75 743.05 L393.72 742.45 L393.69 741.85 L393.66 741.25 L393.63 740.65 L393.59 740.05 L393.56 739.45 L393.52 738.85 L393.49 738.25 L393.45 737.65 L393.41 737.05 L393.37 736.45 L393.33 735.85 L393.28 735.25 L393.24 734.65 L393.19 734.05 L393.13 733.45 L393.08 732.85 L393.02 732.25 L392.96 731.65 L392.9 731.05 L392.84 730.45 L392.77 729.85 L392.7 729.25 L392.64 728.65 L392.57 728.05 L392.5 727.45 L392.43 726.85 L392.35 726.25 L392.27 725.65 L392.18 725.05 L392.09 724.45 L391.99 723.85 L391.87 723.25 L391.74 722.65 L391.59 722.05 L391.44 721.45 L391.27 720.85 L391.11 720.25 L390.94 719.65 L390.76 719.05 L390.59 718.45 L390.42 717.85 L390.25 717.25 L390.07 716.65 L389.89 716.05 L389.7 715.45 L389.5 714.85 L389.3 714.25 L389.08 713.65 L388.84 713.05 L388.58 712.45 L388.31 711.85 L388.02 711.25 L387.72 710.65 L387.41 710.05 L387.11 709.45 L386.81 708.85 L386.5 708.25 L386.17 707.65 L385.83 707.05 L385.46 706.45 L385.08 705.85 L384.69 705.25 L384.29 704.65 L383.88 704.05 L383.47 703.45 L383.07 702.85 L382.64 702.25 L382.2 701.65 L381.74 701.05 L381.28 700.45 L380.78 699.85 L380.28 699.25 L379.8 698.65 L379.34 698.05 L378.91 697.45 L378.48 696.85 L378.05 696.25 L377.63 695.65 L377.22 695.05 L376.83 694.45 L376.46 693.85 L376.12 693.25 L375.8 692.65 L375.52 692.05 L375.24 691.45 L374.96 690.85 L374.75 690.25 L374.57 689.65 L374.41 689.05 L374.29 688.45 L374.19 687.85 L374.14 687.25 L374.11 686.65 L374.08 686.05 L374.06 685.45 L374.04 684.85 L374.04 684.25 L374.04 683.65 L374.06 683.05 L374.08 682.45 L374.13 681.85 L374.19 681.25 L374.29 680.65 L374.41 680.05 L374.54 679.45 L374.69 678.85 L374.85 678.25 L375.01 677.65 L375.17 677.05 L375.33 676.45 L375.5 675.85 L375.69 675.25 L375.89 674.65 L376.1 674.05 L376.32 673.45 L376.56 672.85 L376.8 672.25 L377.06 671.65 L377.35 671.05 L377.71 670.45 L378.11 669.85 L378.52 669.25 L378.95 668.65 L379.4 668.05 L379.87 667.45 L380.35 666.85 L380.84 666.25 L381.4 665.65 L381.97 665.05 L382.57 664.45 L383.19 663.85 L383.83 663.25 L384.49 662.65 L385.17 662.05 L385.84 661.45 L386.33 660.85 L386.88 660.25 L387.48 659.65 L388.12 659.05 L388.78 658.45 L389.41 657.85 L390.01 657.25 L390.58 656.65 L390.88 656.05 L391.1 655.45 L391.35 654.85 L391.6 654.25 L391.85 653.65 L392.07 653.05 L392.25 652.45 L392.37 651.85 L392.65 651.25 L392.91 650.65 L393.07 650.05 L393.22 649.45 L393.36 648.85 L393.48 648.25 L393.59 647.65 L393.68 647.05 L393.74 646.45 L393.79 645.85 L393.8 645.25Z" fill="#bebebe" stroke="#000" stroke-width="1.05" stroke-linejoin="round"/>
<line x1="394.6" y1="645.25" x2="394.6" y2="728" stroke="#000" stroke-width="0.9"/>
<rect x="393" y="673.25" width="3.4" height="22.25" fill="#000"/>
<circle cx="395.3" cy="685.15" r="2.3" fill="#fff"/>
<path d="M457.45 667.5 L458.2 668.1 L458.94 668.7 L459.66 669.3 L460.38 669.9 L461.01 670.5 L461.62 671.1 L462.24 671.7 L462.86 672.3 L463.44 672.9 L463.93 673.5 L464.37 674.1 L464.77 674.7 L465.1 675.3 L465.42 675.9 L465.71 676.5 L465.99 677.1 L466.23 677.7 L466.43 678.3 L466.57 678.9 L466.68 679.5 L466.77 680.1 L466.85 680.7 L466.91 681.3 L466.93 681.9 L466.94 682.5 L466.9 683.1 L466.81 683.7 L466.69 684.3 L466.55 684.9 L466.39 685.5 L466.22 686.1 L466.01 686.7 L465.73 687.3 L465.41 687.9 L465.06 688.5 L464.69 689.1 L464.33 689.7 L463.98 690.3 L463.63 690.9 L463.27 691.5 L462.9 692.1 L462.52 692.7 L462.12 693.3 L461.72 693.9 L461.33 694.5 L460.92 695.1 L460.5 695.7 L460.07 696.3 L459.63 696.9 L459.2 697.5 L458.78 698.1 L458.35 698.7 L457.91 699.3 L457.47 699.9 L457.03 700.5 L456.62 701.1 L456.23 701.7 L455.87 702.3 L455.52 702.9 L455.18 703.5 L454.86 704.1 L454.56 704.7 L454.28 705.3 L454.04 705.9 L453.82 706.5 L453.61 707.1 L453.42 707.7 L453.25 708.3 L453.09 708.9 L452.95 709.5 L452.83 710.1 L452.7 710.7 L452.58 711.3 L452.47 711.9 L452.37 712.5 L452.27 713.1 L452.17 713.7 L452.07 714.3 L451.96 714.9 L451.87 715.5 L451.78 716.1 L451.69 716.7 L451.61 717.3 L451.54 717.9 L451.47 718.5 L451.39 719.1 L451.31 719.7 L451.24 720.3 L451.18 720.9 L451.15 721.5 L451.13 722.1 L451.13 722.5 L441.47 722.5 L441.47 722.1 L441.45 721.5 L441.42 720.9 L441.36 720.3 L441.29 719.7 L441.21 719.1 L441.13 718.5 L441.06 717.9 L440.99 717.3 L440.91 716.7 L440.82 716.1 L440.73 715.5 L440.64 714.9 L440.53 714.3 L440.43 713.7 L440.33 713.1 L440.23 712.5 L440.13 711.9 L440.02 711.3 L439.9 710.7 L439.77 710.1 L439.65 709.5 L439.51 708.9 L439.35 708.3 L439.18 707.7 L438.99 707.1 L438.78 706.5 L438.56 705.9 L438.32 705.3 L438.04 704.7 L437.74 704.1 L437.42 703.5 L437.08 702.9 L436.73 702.3 L436.37 701.7 L435.98 701.1 L435.57 700.5 L435.13 699.9 L434.69 699.3 L434.25 698.7 L433.82 698.1 L433.4 697.5 L432.97 696.9 L432.53 696.3 L432.1 695.7 L431.68 695.1 L431.27 694.5 L430.88 693.9 L430.48 693.3 L430.08 692.7 L429.7 692.1 L429.33 691.5 L428.97 690.9 L428.62 690.3 L428.27 689.7 L427.91 689.1 L427.54 688.5 L427.19 687.9 L426.87 687.3 L426.59 686.7 L426.38 686.1 L426.21 685.5 L426.05 684.9 L425.91 684.3 L425.79 683.7 L425.7 683.1 L425.66 682.5 L425.67 681.9 L425.69 681.3 L425.75 680.7 L425.83 680.1 L425.92 679.5 L426.03 678.9 L426.17 678.3 L426.37 677.7 L426.61 677.1 L426.89 676.5 L427.18 675.9 L427.5 675.3 L427.83 674.7 L428.23 674.1 L428.67 673.5 L429.16 672.9 L429.74 672.3 L430.36 671.7 L430.98 671.1 L431.59 670.5 L432.22 669.9 L432.94 669.3 L433.66 668.7 L434.4 668.1 L435.15 667.5Z" fill="#bebebe" stroke="#000" stroke-width="1.05" stroke-linejoin="round"/>
<line x1="446.2" y1="667.5" x2="446.2" y2="719.8" stroke="#000" stroke-width="0.9"/>
<rect x="444.6" y="679" width="3.4" height="16.5" fill="#000"/>
<circle cx="446.9" cy="689.5" r="2.3" fill="#fff"/>
<rect x="229.6" y="600.2" width="278.7" height="180.6" fill="none" stroke="#000" stroke-width="1.1"/>
<line x1="224.6" y1="606.85" x2="229.6" y2="606.85" stroke="#000" stroke-width="1.1"/>
<text x="220.3" y="610.84" font-size="8.2" text-anchor="start" fill="#000" textLength="7.66" lengthAdjust="spacingAndGlyphs" transform="rotate(-90 220.3 610.84)">14</text>
<line x1="224.6" y1="637.9" x2="229.6" y2="637.9" stroke="#000" stroke-width="1.1"/>
<text x="220.3" y="641.82" font-size="8.2" text-anchor="start" fill="#000" textLength="7.66" lengthAdjust="spacingAndGlyphs" transform="rotate(-90 220.3 641.82)">12</text>
<line x1="224.6" y1="668.7" x2="229.6" y2="668.7" stroke="#000" stroke-width="1.1"/>
<text x="220.3" y="672.66" font-size="8.2" text-anchor="start" fill="#000" textLength="7.66" lengthAdjust="spacingAndGlyphs" transform="rotate(-90 220.3 672.66)">10</text>
<line x1="224.6" y1="699.6" x2="229.6" y2="699.6" stroke="#000" stroke-width="1.1"/>
<text x="220.3" y="701.52" font-size="8.2" text-anchor="start" fill="#000" textLength="3.83" lengthAdjust="spacingAndGlyphs" transform="rotate(-90 220.3 701.52)">8</text>
<line x1="224.6" y1="730.9" x2="229.6" y2="730.9" stroke="#000" stroke-width="1.1"/>
<text x="220.3" y="732.84" font-size="8.2" text-anchor="start" fill="#000" textLength="3.83" lengthAdjust="spacingAndGlyphs" transform="rotate(-90 220.3 732.84)">6</text>
<line x1="224.6" y1="761.7" x2="229.6" y2="761.7" stroke="#000" stroke-width="1.1"/>
<text x="220.3" y="763.59" font-size="8.2" text-anchor="start" fill="#000" textLength="3.83" lengthAdjust="spacingAndGlyphs" transform="rotate(-90 220.3 763.59)">4</text>
<line x1="239.8" y1="780.8" x2="239.8" y2="785.8" stroke="#000" stroke-width="1.1"/>
<line x1="291.5" y1="780.8" x2="291.5" y2="785.8" stroke="#000" stroke-width="1.1"/>
<line x1="343.1" y1="780.8" x2="343.1" y2="785.8" stroke="#000" stroke-width="1.1"/>
<line x1="394.8" y1="780.8" x2="394.8" y2="785.8" stroke="#000" stroke-width="1.1"/>
<line x1="446.4" y1="780.8" x2="446.4" y2="785.8" stroke="#000" stroke-width="1.1"/>
<line x1="498.1" y1="780.8" x2="498.1" y2="785.8" stroke="#000" stroke-width="1.1"/>
<text x="277.07" y="797.6" font-size="9.4" text-anchor="start" fill="#000" textLength="28.48" lengthAdjust="spacingAndGlyphs">Stage 1</text>
<text x="328.07" y="797.6" font-size="9.4" text-anchor="start" fill="#000" textLength="28.49" lengthAdjust="spacingAndGlyphs">Stage 2</text>
<text x="380.38" y="797.6" font-size="9.4" text-anchor="start" fill="#000" textLength="28.44" lengthAdjust="spacingAndGlyphs">Stage 3</text>
<text x="432.88" y="797.6" font-size="9.4" text-anchor="start" fill="#000" textLength="28.31" lengthAdjust="spacingAndGlyphs">Stage 4</text>
<text x="208.1" y="759.64" font-size="9.1" text-anchor="start" fill="#000" textLength="140.32" lengthAdjust="spacingAndGlyphs" transform="rotate(-90 208.1 759.64)">Relative CCNA2 mRNA expression</text>
<text x="350.87" y="587" font-size="11.9" text-anchor="start" fill="#000" font-weight="bold" textLength="39.94" lengthAdjust="spacingAndGlyphs">CCNA2</text>
<text x="446.16" y="617.3" font-size="8.4" text-anchor="start" fill="#000" textLength="51.26" lengthAdjust="spacingAndGlyphs">F value:7.8604</text>
<text x="447.91" y="631.9" font-size="8.4" text-anchor="start" fill="#000" textLength="48.33" lengthAdjust="spacingAndGlyphs">Pr(&gt;F):0.0052</text>
<text transform="translate(178.66 592.2) scale(0.96 1)" font-size="21.6" font-weight="bold" fill="#000">E</text>
</g>
</svg>
</body>
</html>
